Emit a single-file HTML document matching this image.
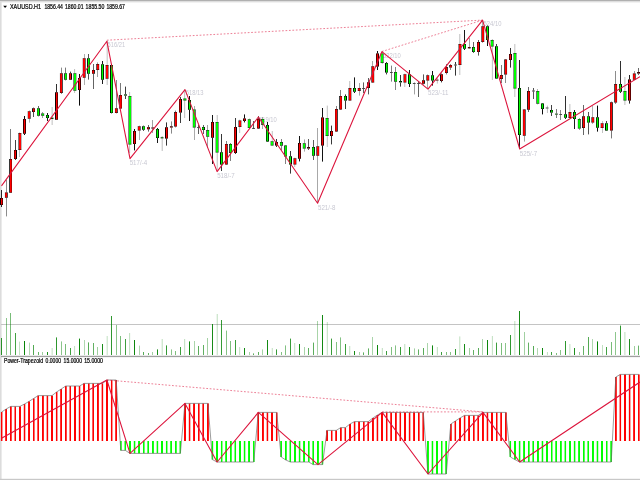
<!DOCTYPE html>
<html lang="en"><head><meta charset="utf-8"><title>XAUUSD.H1 Power-Trapezoid</title>
<style>html,body{margin:0;padding:0;background:#fff;overflow:hidden}body{width:640px;height:480px}svg{display:block}text{font-family:"Liberation Sans","DejaVu Sans",sans-serif}</style>
</head><body>
<svg width="640" height="480" viewBox="0 0 640 480">
<rect x="0" y="0" width="640" height="480" fill="#fff"/>
<g id="frame">
<rect x="0" y="0" width="1.6" height="480" fill="#dcdcdc"/>
<rect x="0" y="0" width="640" height="2.4" fill="#dedede"/>
<rect x="0" y="0" width="640" height="0.7" fill="#9c9c9c"/>
<rect x="0" y="478.8" width="640" height="1.2" fill="#c8c8c8"/>
</g>
<g id="volume">
<rect x="1" y="324" width="639" height="1" fill="#c4c4c4"/>
<g fill="#008000">
<rect x="1" y="338" width="1" height="17" opacity="0.83"/>
<rect x="6" y="318" width="1" height="37" opacity="0.45"/>
<rect x="10" y="313" width="1" height="42" opacity="0.53"/>
<rect x="15" y="333" width="1" height="22" opacity="0.74"/>
<rect x="19" y="341.6" width="1" height="13.4" opacity="0.24"/>
<rect x="24" y="341" width="1" height="14" opacity="0.97"/>
<rect x="29" y="342.6" width="1" height="12.4" opacity="0.31"/>
<rect x="33" y="345" width="1" height="10" opacity="0.68"/>
<rect x="38" y="352" width="1" height="3" opacity="0.6"/>
<rect x="42" y="352" width="1" height="3" opacity="0.38"/>
<rect x="47" y="352" width="1" height="3" opacity="0.89"/>
<rect x="51" y="348" width="1" height="7" opacity="0.09"/>
<rect x="52" y="348" width="1" height="7" opacity="0.16"/>
<rect x="56" y="337.4" width="1" height="17.6" opacity="0.82"/>
<rect x="61" y="341.4" width="1" height="13.6" opacity="0.46"/>
<rect x="65" y="344" width="1" height="11" opacity="0.53"/>
<rect x="70" y="348" width="1" height="7" opacity="0.75"/>
<rect x="74" y="346" width="1" height="9" opacity="0.23"/>
<rect x="75" y="346" width="1" height="9" opacity="0.02"/>
<rect x="79" y="338.6" width="1" height="16.4" opacity="0.96"/>
<rect x="84" y="340" width="1" height="15" opacity="0.31"/>
<rect x="88" y="342.4" width="1" height="12.6" opacity="0.67"/>
<rect x="93" y="343" width="1" height="12" opacity="0.61"/>
<rect x="97" y="347" width="1" height="8" opacity="0.38"/>
<rect x="102" y="344" width="1" height="11" opacity="0.9"/>
<rect x="106" y="336" width="1" height="19" opacity="0.08"/>
<rect x="107" y="336" width="1" height="19" opacity="0.17"/>
<rect x="111" y="316" width="1" height="39" opacity="0.81"/>
<rect x="116" y="325" width="1" height="30" opacity="0.46"/>
<rect x="120" y="336" width="1" height="19" opacity="0.52"/>
<rect x="125" y="339" width="1" height="16" opacity="0.76"/>
<rect x="129" y="333" width="1" height="22" opacity="0.23"/>
<rect x="130" y="333" width="1" height="22" opacity="0.03"/>
<rect x="134" y="340" width="1" height="15" opacity="0.95"/>
<rect x="139" y="345.6" width="1" height="9.4" opacity="0.32"/>
<rect x="143" y="352" width="1" height="3" opacity="0.66"/>
<rect x="148" y="353" width="1" height="2" opacity="0.61"/>
<rect x="152" y="352" width="1" height="3" opacity="0.37"/>
<rect x="157" y="349.4" width="1" height="5.6" opacity="0.91"/>
<rect x="161" y="339" width="1" height="16" opacity="0.08"/>
<rect x="162" y="339" width="1" height="16" opacity="0.18"/>
<rect x="166" y="345.4" width="1" height="9.6" opacity="0.8"/>
<rect x="171" y="349.4" width="1" height="5.6" opacity="0.47"/>
<rect x="175" y="351" width="1" height="4" opacity="0.51"/>
<rect x="180" y="347" width="1" height="8" opacity="0.76"/>
<rect x="184" y="339" width="1" height="16" opacity="0.22"/>
<rect x="185" y="339" width="1" height="16" opacity="0.04"/>
<rect x="189" y="341.4" width="1" height="13.6" opacity="0.94"/>
<rect x="194" y="341" width="1" height="14" opacity="0.33"/>
<rect x="198" y="346" width="1" height="9" opacity="0.65"/>
<rect x="203" y="345" width="1" height="10" opacity="0.62"/>
<rect x="207" y="338" width="1" height="17" opacity="0.36"/>
<rect x="212" y="324" width="1" height="31" opacity="0.91"/>
<rect x="216" y="314" width="1" height="41" opacity="0.07"/>
<rect x="217" y="314" width="1" height="41" opacity="0.19"/>
<rect x="221" y="320" width="1" height="35" opacity="0.79"/>
<rect x="226" y="330.6" width="1" height="24.4" opacity="0.48"/>
<rect x="230" y="341" width="1" height="14" opacity="0.5"/>
<rect x="235" y="340" width="1" height="15" opacity="0.77"/>
<rect x="239" y="347" width="1" height="8" opacity="0.21"/>
<rect x="240" y="347" width="1" height="8" opacity="0.04"/>
<rect x="244" y="348" width="1" height="7" opacity="0.94"/>
<rect x="249" y="352" width="1" height="3" opacity="0.34"/>
<rect x="253" y="353.4" width="1" height="1.6" opacity="0.64"/>
<rect x="258" y="352" width="1" height="3" opacity="0.63"/>
<rect x="262" y="349.4" width="1" height="5.6" opacity="0.35"/>
<rect x="267" y="340" width="1" height="15" opacity="0.92"/>
<rect x="271" y="348" width="1" height="7" opacity="0.06"/>
<rect x="272" y="348" width="1" height="7" opacity="0.19"/>
<rect x="276" y="349.4" width="1" height="5.6" opacity="0.79"/>
<rect x="281" y="352" width="1" height="3" opacity="0.49"/>
<rect x="285" y="345.4" width="1" height="9.6" opacity="0.49"/>
<rect x="290" y="338.6" width="1" height="16.4" opacity="0.78"/>
<rect x="294" y="343" width="1" height="12" opacity="0.2"/>
<rect x="295" y="343" width="1" height="12" opacity="0.05"/>
<rect x="299" y="344" width="1" height="11" opacity="0.93"/>
<rect x="304" y="347" width="1" height="8" opacity="0.34"/>
<rect x="308" y="348" width="1" height="7" opacity="0.64"/>
<rect x="313" y="342.6" width="1" height="12.4" opacity="0.64"/>
<rect x="317" y="321" width="1" height="34" opacity="0.34"/>
<rect x="322" y="315" width="1" height="40" opacity="0.93"/>
<rect x="326" y="322" width="1" height="33" opacity="0.05"/>
<rect x="327" y="322" width="1" height="33" opacity="0.2"/>
<rect x="331" y="338.6" width="1" height="16.4" opacity="0.78"/>
<rect x="336" y="342" width="1" height="13" opacity="0.49"/>
<rect x="340" y="337.4" width="1" height="17.6" opacity="0.49"/>
<rect x="345" y="344" width="1" height="11" opacity="0.79"/>
<rect x="349" y="346" width="1" height="9" opacity="0.2"/>
<rect x="350" y="346" width="1" height="9" opacity="0.06"/>
<rect x="354" y="351" width="1" height="4" opacity="0.92"/>
<rect x="359" y="352" width="1" height="3" opacity="0.35"/>
<rect x="363" y="352.4" width="1" height="2.6" opacity="0.63"/>
<rect x="368" y="348.4" width="1" height="6.6" opacity="0.64"/>
<rect x="372" y="337" width="1" height="18" opacity="0.34"/>
<rect x="377" y="345" width="1" height="10" opacity="0.94"/>
<rect x="381" y="348" width="1" height="7" opacity="0.05"/>
<rect x="382" y="348" width="1" height="7" opacity="0.21"/>
<rect x="386" y="351" width="1" height="4" opacity="0.77"/>
<rect x="391" y="347" width="1" height="8" opacity="0.5"/>
<rect x="395" y="345.4" width="1" height="9.6" opacity="0.48"/>
<rect x="400" y="347" width="1" height="8" opacity="0.79"/>
<rect x="404" y="344" width="1" height="11" opacity="0.19"/>
<rect x="405" y="344" width="1" height="11" opacity="0.07"/>
<rect x="409" y="347" width="1" height="8" opacity="0.91"/>
<rect x="414" y="348.4" width="1" height="6.6" opacity="0.36"/>
<rect x="418" y="349.4" width="1" height="5.6" opacity="0.62"/>
<rect x="423" y="348" width="1" height="7" opacity="0.65"/>
<rect x="427" y="343" width="1" height="12" opacity="0.33"/>
<rect x="432" y="345.4" width="1" height="9.6" opacity="0.94"/>
<rect x="436" y="347" width="1" height="8" opacity="0.04"/>
<rect x="437" y="347" width="1" height="8" opacity="0.22"/>
<rect x="441" y="352" width="1" height="3" opacity="0.76"/>
<rect x="446" y="352" width="1" height="3" opacity="0.51"/>
<rect x="450" y="352" width="1" height="3" opacity="0.47"/>
<rect x="455" y="349" width="1" height="6" opacity="0.8"/>
<rect x="459" y="336.4" width="1" height="18.6" opacity="0.18"/>
<rect x="460" y="336.4" width="1" height="18.6" opacity="0.07"/>
<rect x="464" y="344" width="1" height="11" opacity="0.91"/>
<rect x="469" y="348" width="1" height="7" opacity="0.37"/>
<rect x="473" y="350" width="1" height="5" opacity="0.61"/>
<rect x="478" y="348" width="1" height="7" opacity="0.66"/>
<rect x="482" y="339" width="1" height="16" opacity="0.32"/>
<rect x="487" y="340" width="1" height="15" opacity="0.95"/>
<rect x="491" y="336" width="1" height="19" opacity="0.03"/>
<rect x="492" y="336" width="1" height="19" opacity="0.22"/>
<rect x="496" y="342.6" width="1" height="12.4" opacity="0.76"/>
<rect x="501" y="343" width="1" height="12" opacity="0.52"/>
<rect x="505" y="343" width="1" height="12" opacity="0.46"/>
<rect x="510" y="335" width="1" height="20" opacity="0.81"/>
<rect x="514" y="321" width="1" height="34" opacity="0.17"/>
<rect x="515" y="321" width="1" height="34" opacity="0.08"/>
<rect x="519" y="311" width="1" height="44" opacity="0.9"/>
<rect x="524" y="332" width="1" height="23" opacity="0.37"/>
<rect x="528" y="342.6" width="1" height="12.4" opacity="0.61"/>
<rect x="533" y="346" width="1" height="9" opacity="0.67"/>
<rect x="537" y="348" width="1" height="7" opacity="0.31"/>
<rect x="542" y="348" width="1" height="7" opacity="0.96"/>
<rect x="546" y="352" width="1" height="3" opacity="0.02"/>
<rect x="547" y="352" width="1" height="3" opacity="0.23"/>
<rect x="551" y="352" width="1" height="3" opacity="0.75"/>
<rect x="556" y="353" width="1" height="2" opacity="0.52"/>
<rect x="560" y="350" width="1" height="5" opacity="0.46"/>
<rect x="565" y="341" width="1" height="14" opacity="0.82"/>
<rect x="569" y="344" width="1" height="11" opacity="0.16"/>
<rect x="570" y="344" width="1" height="11" opacity="0.09"/>
<rect x="574" y="348" width="1" height="7" opacity="0.89"/>
<rect x="579" y="352" width="1" height="3" opacity="0.38"/>
<rect x="583" y="346" width="1" height="9" opacity="0.6"/>
<rect x="588" y="337" width="1" height="18" opacity="0.67"/>
<rect x="592" y="339" width="1" height="16" opacity="0.31"/>
<rect x="597" y="341.4" width="1" height="13.6" opacity="0.97"/>
<rect x="602" y="345" width="1" height="10" opacity="0.24"/>
<rect x="606" y="347" width="1" height="8" opacity="0.74"/>
<rect x="611" y="342" width="1" height="13" opacity="0.53"/>
<rect x="615" y="332" width="1" height="23" opacity="0.45"/>
<rect x="620" y="325.6" width="1" height="29.4" opacity="0.82"/>
<rect x="624" y="332" width="1" height="23" opacity="0.16"/>
<rect x="625" y="332" width="1" height="23" opacity="0.1"/>
<rect x="629" y="339" width="1" height="16" opacity="0.88"/>
<rect x="634" y="346" width="1" height="9" opacity="0.39"/>
<rect x="638" y="345.6" width="1" height="9.4" opacity="0.59"/>
</g></g>
<g id="labels" font-size="6.6" fill="#c8c8d2">
<text x="107.6" y="46.8" textLength="17.5" lengthAdjust="spacingAndGlyphs">516/21</text>
<text x="129.7" y="164.8" textLength="17.5" lengthAdjust="spacingAndGlyphs">517/-4</text>
<text x="185.7" y="95" textLength="17.8" lengthAdjust="spacingAndGlyphs">518/13</text>
<text x="217.2" y="178" textLength="17.5" lengthAdjust="spacingAndGlyphs">518/-7</text>
<text x="259" y="122" textLength="17.8" lengthAdjust="spacingAndGlyphs">519/10</text>
<text x="318" y="210" textLength="17.5" lengthAdjust="spacingAndGlyphs">521/-8</text>
<text x="383" y="57.6" textLength="17.8" lengthAdjust="spacingAndGlyphs">522/10</text>
<text x="428" y="95" textLength="20.5" lengthAdjust="spacingAndGlyphs">523/-11</text>
<text x="483.6" y="26" textLength="17.8" lengthAdjust="spacingAndGlyphs">524/10</text>
<text x="519.8" y="155.6" textLength="17.5" lengthAdjust="spacingAndGlyphs">525/-7</text>
</g>
<g id="candles">
<g>
<rect x="1" y="190" width="1" height="8" opacity="0.83"/>
<rect x="1" y="205" width="1" height="2" opacity="0.83"/>
<rect x="0" y="198" width="1" height="7" fill="#140000" opacity="1"/>
<rect x="0" y="198" width="1" height="0.5" opacity="0.8"/>
<rect x="0" y="204.5" width="1" height="0.5" opacity="0.8"/>
<rect x="1" y="198" width="1" height="7" fill="#ff0000" opacity="1"/>
<rect x="1" y="198" width="1" height="0.5" opacity="0.8"/>
<rect x="1" y="204.5" width="1" height="0.5" opacity="0.8"/>
<rect x="2" y="198" width="1" height="7" fill="#6d0000" opacity="1"/>
<rect x="2" y="198" width="1" height="0.5" opacity="0.8"/>
<rect x="2" y="204.5" width="1" height="0.5" opacity="0.8"/>
</g>
<g>
<rect x="6" y="180" width="1" height="12.6" opacity="0.45"/>
<rect x="6" y="197.6" width="1" height="18.8" opacity="0.45"/>
<rect x="4" y="192.6" width="1" height="5" fill="#000000" opacity="0.06"/>
<rect x="4" y="192.6" width="1" height="0.5" opacity="0.05"/>
<rect x="4" y="197.1" width="1" height="0.5" opacity="0.05"/>
<rect x="5" y="192.6" width="1" height="5" fill="#ce0000" opacity="1"/>
<rect x="5" y="192.6" width="1" height="0.5" opacity="0.8"/>
<rect x="5" y="197.1" width="1" height="0.5" opacity="0.8"/>
<rect x="6" y="192.6" width="1" height="5" fill="#ff0000" opacity="1"/>
<rect x="6" y="192.6" width="1" height="0.5" opacity="0.8"/>
<rect x="6" y="197.1" width="1" height="0.5" opacity="0.8"/>
<rect x="7" y="192.6" width="1" height="5" fill="#000000" opacity="0.7"/>
<rect x="7" y="192.6" width="1" height="0.5" opacity="0.56"/>
<rect x="7" y="197.1" width="1" height="0.5" opacity="0.56"/>
</g>
<g>
<rect x="10" y="129" width="1" height="30" opacity="0.53"/>
<rect x="10" y="192.6" width="1" height="0.4" opacity="0.53"/>
<rect x="9" y="159" width="1" height="33.6" fill="#000000" opacity="0.79"/>
<rect x="9" y="159" width="1" height="0.5" opacity="0.63"/>
<rect x="9" y="192.1" width="1" height="0.5" opacity="0.63"/>
<rect x="10" y="159" width="1" height="33.6" fill="#ff0000" opacity="1"/>
<rect x="10" y="159" width="1" height="0.5" opacity="0.8"/>
<rect x="10" y="192.1" width="1" height="0.5" opacity="0.8"/>
<rect x="11" y="159" width="1" height="33.6" fill="#b80000" opacity="1"/>
<rect x="11" y="159" width="1" height="0.5" opacity="0.8"/>
<rect x="11" y="192.1" width="1" height="0.5" opacity="0.8"/>
</g>
<g>
<rect x="15" y="140" width="1" height="10" opacity="0.74"/>
<rect x="15" y="159" width="1" height="1" opacity="0.74"/>
<rect x="14" y="150" width="1" height="9" fill="#830000" opacity="1"/>
<rect x="14" y="150" width="1" height="0.5" opacity="0.8"/>
<rect x="14" y="158.5" width="1" height="0.5" opacity="0.8"/>
<rect x="15" y="150" width="1" height="9" fill="#ff0000" opacity="1"/>
<rect x="15" y="150" width="1" height="0.5" opacity="0.8"/>
<rect x="15" y="158.5" width="1" height="0.5" opacity="0.8"/>
<rect x="16" y="150" width="1" height="9" fill="#000000" opacity="0.99"/>
<rect x="16" y="150" width="1" height="0.5" opacity="0.8"/>
<rect x="16" y="158.5" width="1" height="0.5" opacity="0.8"/>
</g>
<g>
<rect x="19" y="132.4" width="1" height="0.6" opacity="0.24"/>
<rect x="19" y="150" width="1" height="7" opacity="0.24"/>
<rect x="18" y="133" width="1" height="17" fill="#000000" opacity="0.5"/>
<rect x="18" y="133" width="1" height="0.5" opacity="0.4"/>
<rect x="18" y="149.5" width="1" height="0.5" opacity="0.4"/>
<rect x="19" y="133" width="1" height="17" fill="#ff0000" opacity="1"/>
<rect x="19" y="133" width="1" height="0.5" opacity="0.8"/>
<rect x="19" y="149.5" width="1" height="0.5" opacity="0.8"/>
<rect x="20" y="133" width="1" height="17" fill="#ff0000" opacity="0.99"/>
<rect x="20" y="133" width="1" height="0.5" opacity="0.79"/>
<rect x="20" y="149.5" width="1" height="0.5" opacity="0.79"/>
<rect x="21" y="133" width="1" height="17" fill="#000000" opacity="0.27"/>
<rect x="21" y="133" width="1" height="0.5" opacity="0.21"/>
<rect x="21" y="149.5" width="1" height="0.5" opacity="0.21"/>
</g>
<g>
<rect x="24" y="116" width="1" height="3" opacity="0.97"/>
<rect x="24" y="133.6" width="1" height="1.4" opacity="0.97"/>
<rect x="23" y="119" width="1" height="14.6" fill="#390000" opacity="1"/>
<rect x="23" y="119" width="1" height="0.5" opacity="0.8"/>
<rect x="23" y="133.1" width="1" height="0.5" opacity="0.8"/>
<rect x="24" y="119" width="1" height="14.6" fill="#ff0000" opacity="1"/>
<rect x="24" y="119" width="1" height="0.5" opacity="0.8"/>
<rect x="24" y="133.1" width="1" height="0.5" opacity="0.8"/>
<rect x="25" y="119" width="1" height="14.6" fill="#490000" opacity="1"/>
<rect x="25" y="119" width="1" height="0.5" opacity="0.8"/>
<rect x="25" y="133.1" width="1" height="0.5" opacity="0.8"/>
</g>
<g>
<rect x="29" y="110.4" width="1" height="1" opacity="0.31"/>
<rect x="29" y="118.6" width="1" height="4" opacity="0.31"/>
<rect x="27" y="111.4" width="1" height="7.2" fill="#000000" opacity="0.2"/>
<rect x="27" y="111.4" width="1" height="0.5" opacity="0.16"/>
<rect x="27" y="118.1" width="1" height="0.5" opacity="0.16"/>
<rect x="28" y="111.4" width="1" height="7.2" fill="#f20000" opacity="1"/>
<rect x="28" y="111.4" width="1" height="0.5" opacity="0.8"/>
<rect x="28" y="118.1" width="1" height="0.5" opacity="0.8"/>
<rect x="29" y="111.4" width="1" height="7.2" fill="#ff0000" opacity="1"/>
<rect x="29" y="111.4" width="1" height="0.5" opacity="0.8"/>
<rect x="29" y="118.1" width="1" height="0.5" opacity="0.8"/>
<rect x="30" y="111.4" width="1" height="7.2" fill="#000000" opacity="0.56"/>
<rect x="30" y="111.4" width="1" height="0.5" opacity="0.45"/>
<rect x="30" y="118.1" width="1" height="0.5" opacity="0.45"/>
</g>
<g>
<rect x="33" y="107.6" width="1" height="0.8" opacity="0.68"/>
<rect x="33" y="112" width="1" height="5" opacity="0.68"/>
<rect x="32" y="108.4" width="1" height="3.6" fill="#000000" opacity="0.93"/>
<rect x="32" y="108.4" width="1" height="0.5" opacity="0.74"/>
<rect x="32" y="111.5" width="1" height="0.5" opacity="0.74"/>
<rect x="33" y="108.4" width="1" height="3.6" fill="#ff0000" opacity="1"/>
<rect x="33" y="108.4" width="1" height="0.5" opacity="0.8"/>
<rect x="33" y="111.5" width="1" height="0.5" opacity="0.8"/>
<rect x="34" y="108.4" width="1" height="3.6" fill="#940000" opacity="1"/>
<rect x="34" y="108.4" width="1" height="0.5" opacity="0.8"/>
<rect x="34" y="111.5" width="1" height="0.5" opacity="0.8"/>
</g>
<g>
<rect x="38" y="106" width="1" height="2.4" opacity="0.6"/>
<rect x="38" y="115.6" width="1" height="0.8" opacity="0.6"/>
<rect x="37" y="108.4" width="1" height="7.2" fill="#00a700" opacity="1"/>
<rect x="37" y="108.4" width="1" height="0.5" opacity="0.8"/>
<rect x="37" y="115.1" width="1" height="0.5" opacity="0.8"/>
<rect x="38" y="108.4" width="1" height="7.2" fill="#00ff00" opacity="1"/>
<rect x="38" y="108.4" width="1" height="0.5" opacity="0.8"/>
<rect x="38" y="115.1" width="1" height="0.5" opacity="0.8"/>
<rect x="39" y="108.4" width="1" height="7.2" fill="#000000" opacity="0.85"/>
<rect x="39" y="108.4" width="1" height="0.5" opacity="0.68"/>
<rect x="39" y="115.1" width="1" height="0.5" opacity="0.68"/>
</g>
<g>
<rect x="42" y="112" width="1" height="1.6" opacity="0.38"/>
<rect x="42" y="115.6" width="1" height="2.4" opacity="0.38"/>
<rect x="41" y="113.6" width="1" height="2" fill="#000000" opacity="0.64"/>
<rect x="41" y="113.6" width="1" height="0.5" opacity="0.51"/>
<rect x="41" y="115.1" width="1" height="0.5" opacity="0.51"/>
<rect x="42" y="113.6" width="1" height="2" fill="#00ff00" opacity="1"/>
<rect x="42" y="113.6" width="1" height="0.5" opacity="0.8"/>
<rect x="42" y="115.1" width="1" height="0.5" opacity="0.8"/>
<rect x="43" y="113.6" width="1" height="2" fill="#00de00" opacity="1"/>
<rect x="43" y="113.6" width="1" height="0.5" opacity="0.8"/>
<rect x="43" y="115.1" width="1" height="0.5" opacity="0.8"/>
<rect x="44" y="113.6" width="1" height="2" fill="#000000" opacity="0.13"/>
<rect x="44" y="113.6" width="1" height="0.5" opacity="0.1"/>
<rect x="44" y="115.1" width="1" height="0.5" opacity="0.1"/>
</g>
<g>
<rect x="47" y="113" width="1" height="2" opacity="0.89"/>
<rect x="47" y="118" width="1" height="3" opacity="0.89"/>
<rect x="46" y="115" width="1" height="3" fill="#005d00" opacity="1"/>
<rect x="46" y="115" width="1" height="0.5" opacity="0.8"/>
<rect x="46" y="117.5" width="1" height="0.5" opacity="0.8"/>
<rect x="47" y="115" width="1" height="3" fill="#00ff00" opacity="1"/>
<rect x="47" y="115" width="1" height="0.5" opacity="0.8"/>
<rect x="47" y="117.5" width="1" height="0.5" opacity="0.8"/>
<rect x="48" y="115" width="1" height="3" fill="#002500" opacity="1"/>
<rect x="48" y="115" width="1" height="0.5" opacity="0.8"/>
<rect x="48" y="117.5" width="1" height="0.5" opacity="0.8"/>
</g>
<g>
<rect x="51" y="107" width="1" height="10.6" opacity="0.09"/>
<rect x="51" y="119" width="1" height="6" opacity="0.09"/>
<rect x="52" y="107" width="1" height="10.6" opacity="0.16"/>
<rect x="52" y="119" width="1" height="6" opacity="0.16"/>
<rect x="50" y="117.6" width="1" height="1.4" fill="#000000" opacity="0.35"/>
<rect x="51" y="117.6" width="1" height="1.4" fill="#005900" opacity="1"/>
<rect x="52" y="117.6" width="1" height="1.4" fill="#005900" opacity="1"/>
<rect x="53" y="117.6" width="1" height="1.4" fill="#000000" opacity="0.42"/>
</g>
<g>
<rect x="56" y="84" width="1" height="8.4" opacity="0.82"/>
<rect x="56" y="119.6" width="1" height="0.4" opacity="0.82"/>
<rect x="55" y="92.4" width="1" height="27.2" fill="#120000" opacity="1"/>
<rect x="55" y="92.4" width="1" height="0.5" opacity="0.8"/>
<rect x="55" y="119.1" width="1" height="0.5" opacity="0.8"/>
<rect x="56" y="92.4" width="1" height="27.2" fill="#ff0000" opacity="1"/>
<rect x="56" y="92.4" width="1" height="0.5" opacity="0.8"/>
<rect x="56" y="119.1" width="1" height="0.5" opacity="0.8"/>
<rect x="57" y="92.4" width="1" height="27.2" fill="#6f0000" opacity="1"/>
<rect x="57" y="92.4" width="1" height="0.5" opacity="0.8"/>
<rect x="57" y="119.1" width="1" height="0.5" opacity="0.8"/>
</g>
<g>
<rect x="61" y="67.6" width="1" height="5.8" opacity="0.46"/>
<rect x="61" y="93" width="1" height="1" opacity="0.46"/>
<rect x="59" y="73.4" width="1" height="19.6" fill="#000000" opacity="0.05"/>
<rect x="59" y="73.4" width="1" height="0.5" opacity="0.04"/>
<rect x="59" y="92.5" width="1" height="0.5" opacity="0.04"/>
<rect x="60" y="73.4" width="1" height="19.6" fill="#cc0000" opacity="1"/>
<rect x="60" y="73.4" width="1" height="0.5" opacity="0.8"/>
<rect x="60" y="92.5" width="1" height="0.5" opacity="0.8"/>
<rect x="61" y="73.4" width="1" height="19.6" fill="#ff0000" opacity="1"/>
<rect x="61" y="73.4" width="1" height="0.5" opacity="0.8"/>
<rect x="61" y="92.5" width="1" height="0.5" opacity="0.8"/>
<rect x="62" y="73.4" width="1" height="19.6" fill="#000000" opacity="0.71"/>
<rect x="62" y="73.4" width="1" height="0.5" opacity="0.57"/>
<rect x="62" y="92.5" width="1" height="0.5" opacity="0.57"/>
</g>
<g>
<rect x="65" y="67.6" width="1" height="5.8" opacity="0.53"/>
<rect x="65" y="79.6" width="1" height="0.8" opacity="0.53"/>
<rect x="64" y="73.4" width="1" height="6.2" fill="#000000" opacity="0.78"/>
<rect x="64" y="73.4" width="1" height="0.5" opacity="0.62"/>
<rect x="64" y="79.1" width="1" height="0.5" opacity="0.62"/>
<rect x="65" y="73.4" width="1" height="6.2" fill="#00ff00" opacity="1"/>
<rect x="65" y="73.4" width="1" height="0.5" opacity="0.8"/>
<rect x="65" y="79.1" width="1" height="0.5" opacity="0.8"/>
<rect x="66" y="73.4" width="1" height="6.2" fill="#00ba00" opacity="1"/>
<rect x="66" y="73.4" width="1" height="0.5" opacity="0.8"/>
<rect x="66" y="79.1" width="1" height="0.5" opacity="0.8"/>
</g>
<g>
<rect x="70" y="71.6" width="1" height="1.8" opacity="0.75"/>
<rect x="70" y="79.6" width="1" height="0.4" opacity="0.75"/>
<rect x="69" y="73.4" width="1" height="6.2" fill="#810000" opacity="1"/>
<rect x="69" y="73.4" width="1" height="0.5" opacity="0.8"/>
<rect x="69" y="79.1" width="1" height="0.5" opacity="0.8"/>
<rect x="70" y="73.4" width="1" height="6.2" fill="#ff0000" opacity="1"/>
<rect x="70" y="73.4" width="1" height="0.5" opacity="0.8"/>
<rect x="70" y="79.1" width="1" height="0.5" opacity="0.8"/>
<rect x="71" y="73.4" width="1" height="6.2" fill="#000000" opacity="1"/>
<rect x="71" y="73.4" width="1" height="0.5" opacity="0.8"/>
<rect x="71" y="79.1" width="1" height="0.5" opacity="0.8"/>
</g>
<g>
<rect x="74" y="69" width="1" height="4.4" opacity="0.23"/>
<rect x="74" y="90.6" width="1" height="2.4" opacity="0.23"/>
<rect x="75" y="69" width="1" height="4.4" opacity="0.02"/>
<rect x="75" y="90.6" width="1" height="2.4" opacity="0.02"/>
<rect x="73" y="73.4" width="1" height="17.2" fill="#000000" opacity="0.49"/>
<rect x="73" y="73.4" width="1" height="0.5" opacity="0.39"/>
<rect x="73" y="90.1" width="1" height="0.5" opacity="0.39"/>
<rect x="74" y="73.4" width="1" height="17.2" fill="#00ff00" opacity="1"/>
<rect x="74" y="73.4" width="1" height="0.5" opacity="0.8"/>
<rect x="74" y="90.1" width="1" height="0.5" opacity="0.8"/>
<rect x="75" y="73.4" width="1" height="17.2" fill="#00ff00" opacity="1"/>
<rect x="75" y="73.4" width="1" height="0.5" opacity="0.8"/>
<rect x="75" y="90.1" width="1" height="0.5" opacity="0.8"/>
<rect x="76" y="73.4" width="1" height="17.2" fill="#000000" opacity="0.28"/>
<rect x="76" y="73.4" width="1" height="0.5" opacity="0.22"/>
<rect x="76" y="90.1" width="1" height="0.5" opacity="0.22"/>
</g>
<g>
<rect x="79" y="74" width="1" height="4" opacity="0.96"/>
<rect x="79" y="90" width="1" height="15.6" opacity="0.96"/>
<rect x="78" y="78" width="1" height="12" fill="#370000" opacity="1"/>
<rect x="78" y="78" width="1" height="0.5" opacity="0.8"/>
<rect x="78" y="89.5" width="1" height="0.5" opacity="0.8"/>
<rect x="79" y="78" width="1" height="12" fill="#ff0000" opacity="1"/>
<rect x="79" y="78" width="1" height="0.5" opacity="0.8"/>
<rect x="79" y="89.5" width="1" height="0.5" opacity="0.8"/>
<rect x="80" y="78" width="1" height="12" fill="#4b0000" opacity="1"/>
<rect x="80" y="78" width="1" height="0.5" opacity="0.8"/>
<rect x="80" y="89.5" width="1" height="0.5" opacity="0.8"/>
</g>
<g>
<rect x="84" y="54" width="1" height="4.4" opacity="0.31"/>
<rect x="84" y="77.6" width="1" height="7.4" opacity="0.31"/>
<rect x="82" y="58.4" width="1" height="19.2" fill="#000000" opacity="0.2"/>
<rect x="82" y="58.4" width="1" height="0.5" opacity="0.16"/>
<rect x="82" y="77.1" width="1" height="0.5" opacity="0.16"/>
<rect x="83" y="58.4" width="1" height="19.2" fill="#f00000" opacity="1"/>
<rect x="83" y="58.4" width="1" height="0.5" opacity="0.8"/>
<rect x="83" y="77.1" width="1" height="0.5" opacity="0.8"/>
<rect x="84" y="58.4" width="1" height="19.2" fill="#ff0000" opacity="1"/>
<rect x="84" y="58.4" width="1" height="0.5" opacity="0.8"/>
<rect x="84" y="77.1" width="1" height="0.5" opacity="0.8"/>
<rect x="85" y="58.4" width="1" height="19.2" fill="#000000" opacity="0.57"/>
<rect x="85" y="58.4" width="1" height="0.5" opacity="0.45"/>
<rect x="85" y="77.1" width="1" height="0.5" opacity="0.45"/>
</g>
<g>
<rect x="88" y="54" width="1" height="4.4" opacity="0.67"/>
<rect x="88" y="73.6" width="1" height="6" opacity="0.67"/>
<rect x="87" y="58.4" width="1" height="15.2" fill="#000000" opacity="0.92"/>
<rect x="87" y="58.4" width="1" height="0.5" opacity="0.74"/>
<rect x="87" y="73.1" width="1" height="0.5" opacity="0.74"/>
<rect x="88" y="58.4" width="1" height="15.2" fill="#00ff00" opacity="1"/>
<rect x="88" y="58.4" width="1" height="0.5" opacity="0.8"/>
<rect x="88" y="73.1" width="1" height="0.5" opacity="0.8"/>
<rect x="89" y="58.4" width="1" height="15.2" fill="#009600" opacity="1"/>
<rect x="89" y="58.4" width="1" height="0.5" opacity="0.8"/>
<rect x="89" y="73.1" width="1" height="0.5" opacity="0.8"/>
</g>
<g>
<rect x="93" y="64" width="1" height="6" opacity="0.61"/>
<rect x="93" y="73.6" width="1" height="15.4" opacity="0.61"/>
<rect x="92" y="70" width="1" height="3.6" fill="#a60000" opacity="1"/>
<rect x="92" y="70" width="1" height="0.5" opacity="0.8"/>
<rect x="92" y="73.1" width="1" height="0.5" opacity="0.8"/>
<rect x="93" y="70" width="1" height="3.6" fill="#ff0000" opacity="1"/>
<rect x="93" y="70" width="1" height="0.5" opacity="0.8"/>
<rect x="93" y="73.1" width="1" height="0.5" opacity="0.8"/>
<rect x="94" y="70" width="1" height="3.6" fill="#000000" opacity="0.86"/>
<rect x="94" y="70" width="1" height="0.5" opacity="0.69"/>
<rect x="94" y="73.1" width="1" height="0.5" opacity="0.69"/>
</g>
<g>
<rect x="97" y="62.4" width="1" height="1.6" opacity="0.38"/>
<rect x="97" y="70" width="1" height="7" opacity="0.38"/>
<rect x="96" y="64" width="1" height="6" fill="#000000" opacity="0.63"/>
<rect x="96" y="64" width="1" height="0.5" opacity="0.5"/>
<rect x="96" y="69.5" width="1" height="0.5" opacity="0.5"/>
<rect x="97" y="64" width="1" height="6" fill="#ff0000" opacity="1"/>
<rect x="97" y="64" width="1" height="0.5" opacity="0.8"/>
<rect x="97" y="69.5" width="1" height="0.5" opacity="0.8"/>
<rect x="98" y="64" width="1" height="6" fill="#e00000" opacity="1"/>
<rect x="98" y="64" width="1" height="0.5" opacity="0.8"/>
<rect x="98" y="69.5" width="1" height="0.5" opacity="0.8"/>
<rect x="99" y="64" width="1" height="6" fill="#000000" opacity="0.13"/>
<rect x="99" y="64" width="1" height="0.5" opacity="0.11"/>
<rect x="99" y="69.5" width="1" height="0.5" opacity="0.11"/>
</g>
<g>
<rect x="102" y="61" width="1" height="3.4" opacity="0.9"/>
<rect x="102" y="79.6" width="1" height="4.4" opacity="0.9"/>
<rect x="101" y="64.4" width="1" height="15.2" fill="#005b00" opacity="1"/>
<rect x="101" y="64.4" width="1" height="0.5" opacity="0.8"/>
<rect x="101" y="79.1" width="1" height="0.5" opacity="0.8"/>
<rect x="102" y="64.4" width="1" height="15.2" fill="#00ff00" opacity="1"/>
<rect x="102" y="64.4" width="1" height="0.5" opacity="0.8"/>
<rect x="102" y="79.1" width="1" height="0.5" opacity="0.8"/>
<rect x="103" y="64.4" width="1" height="15.2" fill="#002700" opacity="1"/>
<rect x="103" y="64.4" width="1" height="0.5" opacity="0.8"/>
<rect x="103" y="79.1" width="1" height="0.5" opacity="0.8"/>
</g>
<g>
<rect x="106" y="40.6" width="1" height="24.4" opacity="0.08"/>
<rect x="106" y="78.6" width="1" height="6.4" opacity="0.08"/>
<rect x="107" y="40.6" width="1" height="24.4" opacity="0.17"/>
<rect x="107" y="78.6" width="1" height="6.4" opacity="0.17"/>
<rect x="105" y="65" width="1" height="13.6" fill="#000000" opacity="0.34"/>
<rect x="105" y="65" width="1" height="0.5" opacity="0.27"/>
<rect x="105" y="78.1" width="1" height="0.5" opacity="0.27"/>
<rect x="106" y="65" width="1" height="13.6" fill="#ff0000" opacity="1"/>
<rect x="106" y="65" width="1" height="0.5" opacity="0.8"/>
<rect x="106" y="78.1" width="1" height="0.5" opacity="0.8"/>
<rect x="107" y="65" width="1" height="13.6" fill="#ff0000" opacity="1"/>
<rect x="107" y="65" width="1" height="0.5" opacity="0.8"/>
<rect x="107" y="78.1" width="1" height="0.5" opacity="0.8"/>
<rect x="108" y="65" width="1" height="13.6" fill="#000000" opacity="0.43"/>
<rect x="108" y="65" width="1" height="0.5" opacity="0.34"/>
<rect x="108" y="78.1" width="1" height="0.5" opacity="0.34"/>
</g>
<g>
<rect x="111" y="64" width="1" height="1" opacity="0.81"/>
<rect x="111" y="113" width="1" height="0.4" opacity="0.81"/>
<rect x="110" y="65" width="1" height="48" fill="#001100" opacity="1"/>
<rect x="110" y="65" width="1" height="0.5" opacity="0.8"/>
<rect x="110" y="112.5" width="1" height="0.5" opacity="0.8"/>
<rect x="111" y="65" width="1" height="48" fill="#00ff00" opacity="1"/>
<rect x="111" y="65" width="1" height="0.5" opacity="0.8"/>
<rect x="111" y="112.5" width="1" height="0.5" opacity="0.8"/>
<rect x="112" y="65" width="1" height="48" fill="#007100" opacity="1"/>
<rect x="112" y="65" width="1" height="0.5" opacity="0.8"/>
<rect x="112" y="112.5" width="1" height="0.5" opacity="0.8"/>
</g>
<g>
<rect x="116" y="80" width="1" height="28.4" opacity="0.46"/>
<rect x="116" y="113" width="1" height="0.4" opacity="0.46"/>
<rect x="114" y="108.4" width="1" height="4.6" fill="#000000" opacity="0.05"/>
<rect x="114" y="108.4" width="1" height="0.5" opacity="0.04"/>
<rect x="114" y="112.5" width="1" height="0.5" opacity="0.04"/>
<rect x="115" y="108.4" width="1" height="4.6" fill="#ca0000" opacity="1"/>
<rect x="115" y="108.4" width="1" height="0.5" opacity="0.8"/>
<rect x="115" y="112.5" width="1" height="0.5" opacity="0.8"/>
<rect x="116" y="108.4" width="1" height="4.6" fill="#ff0000" opacity="1"/>
<rect x="116" y="108.4" width="1" height="0.5" opacity="0.8"/>
<rect x="116" y="112.5" width="1" height="0.5" opacity="0.8"/>
<rect x="117" y="108.4" width="1" height="4.6" fill="#000000" opacity="0.72"/>
<rect x="117" y="108.4" width="1" height="0.5" opacity="0.57"/>
<rect x="117" y="112.5" width="1" height="0.5" opacity="0.57"/>
</g>
<g>
<rect x="120" y="83" width="1" height="12" opacity="0.52"/>
<rect x="120" y="108.4" width="1" height="0.6" opacity="0.52"/>
<rect x="119" y="95" width="1" height="13.4" fill="#000000" opacity="0.77"/>
<rect x="119" y="95" width="1" height="0.5" opacity="0.62"/>
<rect x="119" y="107.9" width="1" height="0.5" opacity="0.62"/>
<rect x="120" y="95" width="1" height="13.4" fill="#ff0000" opacity="1"/>
<rect x="120" y="95" width="1" height="0.5" opacity="0.8"/>
<rect x="120" y="107.9" width="1" height="0.5" opacity="0.8"/>
<rect x="121" y="95" width="1" height="13.4" fill="#bc0000" opacity="1"/>
<rect x="121" y="95" width="1" height="0.5" opacity="0.8"/>
<rect x="121" y="107.9" width="1" height="0.5" opacity="0.8"/>
</g>
<g>
<rect x="125" y="86.6" width="1" height="7.8" opacity="0.76"/>
<rect x="125" y="95.6" width="1" height="3.4" opacity="0.76"/>
<rect x="124" y="94.4" width="1" height="1.2" fill="#002d00" opacity="1"/>
<rect x="125" y="94.4" width="1" height="1.2" fill="#005900" opacity="1"/>
<rect x="126" y="94.4" width="1" height="1.2" fill="#000000" opacity="0.99"/>
</g>
<g>
<rect x="129" y="92" width="1" height="4" opacity="0.23"/>
<rect x="129" y="144.4" width="1" height="8.6" opacity="0.23"/>
<rect x="130" y="92" width="1" height="4" opacity="0.03"/>
<rect x="130" y="144.4" width="1" height="8.6" opacity="0.03"/>
<rect x="128" y="96" width="1" height="48.4" fill="#000000" opacity="0.48"/>
<rect x="128" y="96" width="1" height="0.5" opacity="0.38"/>
<rect x="128" y="143.9" width="1" height="0.5" opacity="0.38"/>
<rect x="129" y="96" width="1" height="48.4" fill="#00ff00" opacity="1"/>
<rect x="129" y="96" width="1" height="0.5" opacity="0.8"/>
<rect x="129" y="143.9" width="1" height="0.5" opacity="0.8"/>
<rect x="130" y="96" width="1" height="48.4" fill="#00ff00" opacity="1"/>
<rect x="130" y="96" width="1" height="0.5" opacity="0.8"/>
<rect x="130" y="143.9" width="1" height="0.5" opacity="0.8"/>
<rect x="131" y="96" width="1" height="48.4" fill="#000000" opacity="0.28"/>
<rect x="131" y="96" width="1" height="0.5" opacity="0.23"/>
<rect x="131" y="143.9" width="1" height="0.5" opacity="0.23"/>
</g>
<g>
<rect x="134" y="129" width="1" height="2" opacity="0.95"/>
<rect x="134" y="144" width="1" height="6.4" opacity="0.95"/>
<rect x="133" y="131" width="1" height="13" fill="#350000" opacity="1"/>
<rect x="133" y="131" width="1" height="0.5" opacity="0.8"/>
<rect x="133" y="143.5" width="1" height="0.5" opacity="0.8"/>
<rect x="134" y="131" width="1" height="13" fill="#ff0000" opacity="1"/>
<rect x="134" y="131" width="1" height="0.5" opacity="0.8"/>
<rect x="134" y="143.5" width="1" height="0.5" opacity="0.8"/>
<rect x="135" y="131" width="1" height="13" fill="#4d0000" opacity="1"/>
<rect x="135" y="131" width="1" height="0.5" opacity="0.8"/>
<rect x="135" y="143.5" width="1" height="0.5" opacity="0.8"/>
</g>
<g>
<rect x="139" y="125.6" width="1" height="0.8" opacity="0.32"/>
<rect x="139" y="130.4" width="1" height="9.6" opacity="0.32"/>
<rect x="137" y="126.4" width="1" height="4" fill="#000000" opacity="0.19"/>
<rect x="137" y="126.4" width="1" height="0.5" opacity="0.15"/>
<rect x="137" y="129.9" width="1" height="0.5" opacity="0.15"/>
<rect x="138" y="126.4" width="1" height="4" fill="#ee0000" opacity="1"/>
<rect x="138" y="126.4" width="1" height="0.5" opacity="0.8"/>
<rect x="138" y="129.9" width="1" height="0.5" opacity="0.8"/>
<rect x="139" y="126.4" width="1" height="4" fill="#ff0000" opacity="1"/>
<rect x="139" y="126.4" width="1" height="0.5" opacity="0.8"/>
<rect x="139" y="129.9" width="1" height="0.5" opacity="0.8"/>
<rect x="140" y="126.4" width="1" height="4" fill="#000000" opacity="0.58"/>
<rect x="140" y="126.4" width="1" height="0.5" opacity="0.46"/>
<rect x="140" y="129.9" width="1" height="0.5" opacity="0.46"/>
</g>
<g>
<rect x="143" y="125.6" width="1" height="0.8" opacity="0.66"/>
<rect x="143" y="129.6" width="1" height="1.4" opacity="0.66"/>
<rect x="142" y="126.4" width="1" height="3.2" fill="#000000" opacity="0.91"/>
<rect x="142" y="126.4" width="1" height="0.5" opacity="0.73"/>
<rect x="142" y="129.1" width="1" height="0.5" opacity="0.73"/>
<rect x="143" y="126.4" width="1" height="3.2" fill="#00ff00" opacity="1"/>
<rect x="143" y="126.4" width="1" height="0.5" opacity="0.8"/>
<rect x="143" y="129.1" width="1" height="0.5" opacity="0.8"/>
<rect x="144" y="126.4" width="1" height="3.2" fill="#009800" opacity="1"/>
<rect x="144" y="126.4" width="1" height="0.5" opacity="0.8"/>
<rect x="144" y="129.1" width="1" height="0.5" opacity="0.8"/>
</g>
<g>
<rect x="148" y="125" width="1" height="2.2" opacity="0.61"/>
<rect x="148" y="129.2" width="1" height="2.4" opacity="0.61"/>
<rect x="147" y="127.2" width="1" height="2" fill="#a40000" opacity="1"/>
<rect x="147" y="127.2" width="1" height="0.5" opacity="0.8"/>
<rect x="147" y="128.7" width="1" height="0.5" opacity="0.8"/>
<rect x="148" y="127.2" width="1" height="2" fill="#ff0000" opacity="1"/>
<rect x="148" y="127.2" width="1" height="0.5" opacity="0.8"/>
<rect x="148" y="128.7" width="1" height="0.5" opacity="0.8"/>
<rect x="149" y="127.2" width="1" height="2" fill="#000000" opacity="0.87"/>
<rect x="149" y="127.2" width="1" height="0.5" opacity="0.69"/>
<rect x="149" y="128.7" width="1" height="0.5" opacity="0.69"/>
</g>
<g>
<rect x="152" y="120" width="1" height="7.4" opacity="0.37"/>
<rect x="152" y="128.6" width="1" height="4.4" opacity="0.37"/>
<rect x="151" y="127.4" width="1" height="1.2" fill="#000000" opacity="0.62"/>
<rect x="152" y="127.4" width="1" height="1.2" fill="#590000" opacity="1"/>
<rect x="153" y="127.4" width="1" height="1.2" fill="#4f0000" opacity="1"/>
<rect x="154" y="127.4" width="1" height="1.2" fill="#000000" opacity="0.14"/>
</g>
<g>
<rect x="157" y="128" width="1" height="1" opacity="0.91"/>
<rect x="157" y="138" width="1" height="5" opacity="0.91"/>
<rect x="156" y="129" width="1" height="9" fill="#005900" opacity="1"/>
<rect x="156" y="129" width="1" height="0.5" opacity="0.8"/>
<rect x="156" y="137.5" width="1" height="0.5" opacity="0.8"/>
<rect x="157" y="129" width="1" height="9" fill="#00ff00" opacity="1"/>
<rect x="157" y="129" width="1" height="0.5" opacity="0.8"/>
<rect x="157" y="137.5" width="1" height="0.5" opacity="0.8"/>
<rect x="158" y="129" width="1" height="9" fill="#002900" opacity="1"/>
<rect x="158" y="129" width="1" height="0.5" opacity="0.8"/>
<rect x="158" y="137.5" width="1" height="0.5" opacity="0.8"/>
</g>
<g>
<rect x="161" y="136" width="1" height="1.2" opacity="0.08"/>
<rect x="161" y="138.4" width="1" height="12.6" opacity="0.08"/>
<rect x="162" y="136" width="1" height="1.2" opacity="0.18"/>
<rect x="162" y="138.4" width="1" height="12.6" opacity="0.18"/>
<rect x="160" y="137.2" width="1" height="1.2" fill="#000000" opacity="0.33"/>
<rect x="161" y="137.2" width="1" height="1.2" fill="#005900" opacity="1"/>
<rect x="162" y="137.2" width="1" height="1.2" fill="#005900" opacity="1"/>
<rect x="163" y="137.2" width="1" height="1.2" fill="#000000" opacity="0.43"/>
</g>
<g>
<rect x="166" y="122.4" width="1" height="5" opacity="0.8"/>
<rect x="166" y="138.4" width="1" height="7.2" opacity="0.8"/>
<rect x="165" y="127.4" width="1" height="11" fill="#0f0000" opacity="1"/>
<rect x="165" y="127.4" width="1" height="0.5" opacity="0.8"/>
<rect x="165" y="137.9" width="1" height="0.5" opacity="0.8"/>
<rect x="166" y="127.4" width="1" height="11" fill="#ff0000" opacity="1"/>
<rect x="166" y="127.4" width="1" height="0.5" opacity="0.8"/>
<rect x="166" y="137.9" width="1" height="0.5" opacity="0.8"/>
<rect x="167" y="127.4" width="1" height="11" fill="#730000" opacity="1"/>
<rect x="167" y="127.4" width="1" height="0.5" opacity="0.8"/>
<rect x="167" y="137.9" width="1" height="0.5" opacity="0.8"/>
</g>
<g>
<rect x="171" y="121.4" width="1" height="4.8" opacity="0.47"/>
<rect x="171" y="127.6" width="1" height="6" opacity="0.47"/>
<rect x="169" y="126.2" width="1" height="1.4" fill="#000000" opacity="0.04"/>
<rect x="170" y="126.2" width="1" height="1.4" fill="#460000" opacity="1"/>
<rect x="171" y="126.2" width="1" height="1.4" fill="#590000" opacity="1"/>
<rect x="172" y="126.2" width="1" height="1.4" fill="#000000" opacity="0.73"/>
</g>
<g>
<rect x="175" y="110.6" width="1" height="1.4" opacity="0.51"/>
<rect x="175" y="126.4" width="1" height="1" opacity="0.51"/>
<rect x="174" y="112" width="1" height="14.4" fill="#000000" opacity="0.76"/>
<rect x="174" y="112" width="1" height="0.5" opacity="0.61"/>
<rect x="174" y="125.9" width="1" height="0.5" opacity="0.61"/>
<rect x="175" y="112" width="1" height="14.4" fill="#ff0000" opacity="1"/>
<rect x="175" y="112" width="1" height="0.5" opacity="0.8"/>
<rect x="175" y="125.9" width="1" height="0.5" opacity="0.8"/>
<rect x="176" y="112" width="1" height="14.4" fill="#be0000" opacity="1"/>
<rect x="176" y="112" width="1" height="0.5" opacity="0.8"/>
<rect x="176" y="125.9" width="1" height="0.5" opacity="0.8"/>
</g>
<g>
<rect x="180" y="97" width="1" height="2" opacity="0.76"/>
<rect x="180" y="112.4" width="1" height="10.6" opacity="0.76"/>
<rect x="179" y="99" width="1" height="13.4" fill="#7d0000" opacity="1"/>
<rect x="179" y="99" width="1" height="0.5" opacity="0.8"/>
<rect x="179" y="111.9" width="1" height="0.5" opacity="0.8"/>
<rect x="180" y="99" width="1" height="13.4" fill="#ff0000" opacity="1"/>
<rect x="180" y="99" width="1" height="0.5" opacity="0.8"/>
<rect x="180" y="111.9" width="1" height="0.5" opacity="0.8"/>
<rect x="181" y="99" width="1" height="13.4" fill="#000000" opacity="0.98"/>
<rect x="181" y="99" width="1" height="0.5" opacity="0.79"/>
<rect x="181" y="111.9" width="1" height="0.5" opacity="0.79"/>
</g>
<g>
<rect x="184" y="89.4" width="1" height="9.2" opacity="0.22"/>
<rect x="184" y="100.4" width="1" height="17.6" opacity="0.22"/>
<rect x="185" y="89.4" width="1" height="9.2" opacity="0.04"/>
<rect x="185" y="100.4" width="1" height="17.6" opacity="0.04"/>
<rect x="183" y="98.6" width="1" height="1.8" fill="#000000" opacity="0.47"/>
<rect x="183" y="98.6" width="1" height="0.5" opacity="0.38"/>
<rect x="183" y="99.9" width="1" height="0.5" opacity="0.38"/>
<rect x="184" y="98.6" width="1" height="1.8" fill="#00ff00" opacity="1"/>
<rect x="184" y="98.6" width="1" height="0.5" opacity="0.8"/>
<rect x="184" y="99.9" width="1" height="0.5" opacity="0.8"/>
<rect x="185" y="98.6" width="1" height="1.8" fill="#00ff00" opacity="1"/>
<rect x="185" y="98.6" width="1" height="0.5" opacity="0.8"/>
<rect x="185" y="99.9" width="1" height="0.5" opacity="0.8"/>
<rect x="186" y="98.6" width="1" height="1.8" fill="#000000" opacity="0.29"/>
<rect x="186" y="98.6" width="1" height="0.5" opacity="0.23"/>
<rect x="186" y="99.9" width="1" height="0.5" opacity="0.23"/>
</g>
<g>
<rect x="189" y="96" width="1" height="4" opacity="0.94"/>
<rect x="189" y="109.6" width="1" height="11.4" opacity="0.94"/>
<rect x="188" y="100" width="1" height="9.6" fill="#003300" opacity="1"/>
<rect x="188" y="100" width="1" height="0.5" opacity="0.8"/>
<rect x="188" y="109.1" width="1" height="0.5" opacity="0.8"/>
<rect x="189" y="100" width="1" height="9.6" fill="#00ff00" opacity="1"/>
<rect x="189" y="100" width="1" height="0.5" opacity="0.8"/>
<rect x="189" y="109.1" width="1" height="0.5" opacity="0.8"/>
<rect x="190" y="100" width="1" height="9.6" fill="#004f00" opacity="1"/>
<rect x="190" y="100" width="1" height="0.5" opacity="0.8"/>
<rect x="190" y="109.1" width="1" height="0.5" opacity="0.8"/>
</g>
<g>
<rect x="194" y="106" width="1" height="3.6" opacity="0.33"/>
<rect x="194" y="127.4" width="1" height="12.6" opacity="0.33"/>
<rect x="192" y="109.6" width="1" height="17.8" fill="#000000" opacity="0.18"/>
<rect x="192" y="109.6" width="1" height="0.5" opacity="0.14"/>
<rect x="192" y="126.9" width="1" height="0.5" opacity="0.14"/>
<rect x="193" y="109.6" width="1" height="17.8" fill="#00ec00" opacity="1"/>
<rect x="193" y="109.6" width="1" height="0.5" opacity="0.8"/>
<rect x="193" y="126.9" width="1" height="0.5" opacity="0.8"/>
<rect x="194" y="109.6" width="1" height="17.8" fill="#00ff00" opacity="1"/>
<rect x="194" y="109.6" width="1" height="0.5" opacity="0.8"/>
<rect x="194" y="126.9" width="1" height="0.5" opacity="0.8"/>
<rect x="195" y="109.6" width="1" height="17.8" fill="#000000" opacity="0.58"/>
<rect x="195" y="109.6" width="1" height="0.5" opacity="0.47"/>
<rect x="195" y="126.9" width="1" height="0.5" opacity="0.47"/>
</g>
<g>
<rect x="198" y="125" width="1" height="2" opacity="0.65"/>
<rect x="198" y="128" width="1" height="6" opacity="0.65"/>
<rect x="197" y="127.15" width="1" height="0.7" opacity="0.91"/>
<rect x="198" y="127.15" width="1" height="0.7" opacity="1"/>
<rect x="199" y="127.15" width="1" height="0.7" opacity="1"/>
</g>
<g>
<rect x="203" y="125" width="1" height="2" opacity="0.62"/>
<rect x="203" y="130" width="1" height="4" opacity="0.62"/>
<rect x="202" y="127" width="1" height="3" fill="#00a200" opacity="1"/>
<rect x="202" y="127" width="1" height="0.5" opacity="0.8"/>
<rect x="202" y="129.5" width="1" height="0.5" opacity="0.8"/>
<rect x="203" y="127" width="1" height="3" fill="#00ff00" opacity="1"/>
<rect x="203" y="127" width="1" height="0.5" opacity="0.8"/>
<rect x="203" y="129.5" width="1" height="0.5" opacity="0.8"/>
<rect x="204" y="127" width="1" height="3" fill="#000000" opacity="0.88"/>
<rect x="204" y="127" width="1" height="0.5" opacity="0.7"/>
<rect x="204" y="129.5" width="1" height="0.5" opacity="0.7"/>
</g>
<g>
<rect x="207" y="125" width="1" height="5" opacity="0.36"/>
<rect x="207" y="136.6" width="1" height="11.4" opacity="0.36"/>
<rect x="206" y="130" width="1" height="6.6" fill="#000000" opacity="0.62"/>
<rect x="206" y="130" width="1" height="0.5" opacity="0.49"/>
<rect x="206" y="136.1" width="1" height="0.5" opacity="0.49"/>
<rect x="207" y="130" width="1" height="6.6" fill="#00ff00" opacity="1"/>
<rect x="207" y="130" width="1" height="0.5" opacity="0.8"/>
<rect x="207" y="136.1" width="1" height="0.5" opacity="0.8"/>
<rect x="208" y="130" width="1" height="6.6" fill="#00e400" opacity="1"/>
<rect x="208" y="130" width="1" height="0.5" opacity="0.8"/>
<rect x="208" y="136.1" width="1" height="0.5" opacity="0.8"/>
<rect x="209" y="130" width="1" height="6.6" fill="#000000" opacity="0.15"/>
<rect x="209" y="130" width="1" height="0.5" opacity="0.12"/>
<rect x="209" y="136.1" width="1" height="0.5" opacity="0.12"/>
</g>
<g>
<rect x="212" y="115" width="1" height="7" opacity="0.91"/>
<rect x="212" y="137.6" width="1" height="26.4" opacity="0.91"/>
<rect x="211" y="122" width="1" height="15.6" fill="#570000" opacity="1"/>
<rect x="211" y="122" width="1" height="0.5" opacity="0.8"/>
<rect x="211" y="137.1" width="1" height="0.5" opacity="0.8"/>
<rect x="212" y="122" width="1" height="15.6" fill="#ff0000" opacity="1"/>
<rect x="212" y="122" width="1" height="0.5" opacity="0.8"/>
<rect x="212" y="137.1" width="1" height="0.5" opacity="0.8"/>
<rect x="213" y="122" width="1" height="15.6" fill="#2b0000" opacity="1"/>
<rect x="213" y="122" width="1" height="0.5" opacity="0.8"/>
<rect x="213" y="137.1" width="1" height="0.5" opacity="0.8"/>
</g>
<g>
<rect x="216" y="115" width="1" height="7" opacity="0.07"/>
<rect x="216" y="152.4" width="1" height="17.6" opacity="0.07"/>
<rect x="217" y="115" width="1" height="7" opacity="0.19"/>
<rect x="217" y="152.4" width="1" height="17.6" opacity="0.19"/>
<rect x="215" y="122" width="1" height="30.4" fill="#000000" opacity="0.32"/>
<rect x="215" y="122" width="1" height="0.5" opacity="0.26"/>
<rect x="215" y="151.9" width="1" height="0.5" opacity="0.26"/>
<rect x="216" y="122" width="1" height="30.4" fill="#00ff00" opacity="1"/>
<rect x="216" y="122" width="1" height="0.5" opacity="0.8"/>
<rect x="216" y="151.9" width="1" height="0.5" opacity="0.8"/>
<rect x="217" y="122" width="1" height="30.4" fill="#00ff00" opacity="1"/>
<rect x="217" y="122" width="1" height="0.5" opacity="0.8"/>
<rect x="217" y="151.9" width="1" height="0.5" opacity="0.8"/>
<rect x="218" y="122" width="1" height="30.4" fill="#000000" opacity="0.44"/>
<rect x="218" y="122" width="1" height="0.5" opacity="0.35"/>
<rect x="218" y="151.9" width="1" height="0.5" opacity="0.35"/>
</g>
<g>
<rect x="221" y="134" width="1" height="18.4" opacity="0.79"/>
<rect x="221" y="164.4" width="1" height="6.6" opacity="0.79"/>
<rect x="220" y="152.4" width="1" height="12" fill="#000d00" opacity="1"/>
<rect x="220" y="152.4" width="1" height="0.5" opacity="0.8"/>
<rect x="220" y="163.9" width="1" height="0.5" opacity="0.8"/>
<rect x="221" y="152.4" width="1" height="12" fill="#00ff00" opacity="1"/>
<rect x="221" y="152.4" width="1" height="0.5" opacity="0.8"/>
<rect x="221" y="163.9" width="1" height="0.5" opacity="0.8"/>
<rect x="222" y="152.4" width="1" height="12" fill="#007500" opacity="1"/>
<rect x="222" y="152.4" width="1" height="0.5" opacity="0.8"/>
<rect x="222" y="163.9" width="1" height="0.5" opacity="0.8"/>
</g>
<g>
<rect x="226" y="141" width="1" height="3" opacity="0.48"/>
<rect x="226" y="164.4" width="1" height="0.6" opacity="0.48"/>
<rect x="224" y="144" width="1" height="20.4" fill="#000000" opacity="0.03"/>
<rect x="224" y="144" width="1" height="0.5" opacity="0.02"/>
<rect x="224" y="163.9" width="1" height="0.5" opacity="0.02"/>
<rect x="225" y="144" width="1" height="20.4" fill="#c60000" opacity="1"/>
<rect x="225" y="144" width="1" height="0.5" opacity="0.8"/>
<rect x="225" y="163.9" width="1" height="0.5" opacity="0.8"/>
<rect x="226" y="144" width="1" height="20.4" fill="#ff0000" opacity="1"/>
<rect x="226" y="144" width="1" height="0.5" opacity="0.8"/>
<rect x="226" y="163.9" width="1" height="0.5" opacity="0.8"/>
<rect x="227" y="144" width="1" height="20.4" fill="#000000" opacity="0.73"/>
<rect x="227" y="144" width="1" height="0.5" opacity="0.59"/>
<rect x="227" y="163.9" width="1" height="0.5" opacity="0.59"/>
</g>
<g>
<rect x="230" y="143" width="1" height="1" opacity="0.5"/>
<rect x="230" y="153" width="1" height="8" opacity="0.5"/>
<rect x="229" y="144" width="1" height="9" fill="#000000" opacity="0.76"/>
<rect x="229" y="144" width="1" height="0.5" opacity="0.61"/>
<rect x="229" y="152.5" width="1" height="0.5" opacity="0.61"/>
<rect x="230" y="144" width="1" height="9" fill="#00ff00" opacity="1"/>
<rect x="230" y="144" width="1" height="0.5" opacity="0.8"/>
<rect x="230" y="152.5" width="1" height="0.5" opacity="0.8"/>
<rect x="231" y="144" width="1" height="9" fill="#00c000" opacity="1"/>
<rect x="231" y="144" width="1" height="0.5" opacity="0.8"/>
<rect x="231" y="152.5" width="1" height="0.5" opacity="0.8"/>
</g>
<g>
<rect x="235" y="118" width="1" height="9" opacity="0.77"/>
<rect x="235" y="153" width="1" height="1" opacity="0.77"/>
<rect x="234" y="127" width="1" height="26" fill="#7b0000" opacity="1"/>
<rect x="234" y="127" width="1" height="0.5" opacity="0.8"/>
<rect x="234" y="152.5" width="1" height="0.5" opacity="0.8"/>
<rect x="235" y="127" width="1" height="26" fill="#ff0000" opacity="1"/>
<rect x="235" y="127" width="1" height="0.5" opacity="0.8"/>
<rect x="235" y="152.5" width="1" height="0.5" opacity="0.8"/>
<rect x="236" y="127" width="1" height="26" fill="#070000" opacity="1"/>
<rect x="236" y="127" width="1" height="0.5" opacity="0.8"/>
<rect x="236" y="152.5" width="1" height="0.5" opacity="0.8"/>
</g>
<g>
<rect x="239" y="119.6" width="1" height="1" opacity="0.21"/>
<rect x="239" y="127" width="1" height="6" opacity="0.21"/>
<rect x="240" y="119.6" width="1" height="1" opacity="0.04"/>
<rect x="240" y="127" width="1" height="6" opacity="0.04"/>
<rect x="238" y="120.6" width="1" height="6.4" fill="#000000" opacity="0.47"/>
<rect x="238" y="120.6" width="1" height="0.5" opacity="0.37"/>
<rect x="238" y="126.5" width="1" height="0.5" opacity="0.37"/>
<rect x="239" y="120.6" width="1" height="6.4" fill="#ff0000" opacity="1"/>
<rect x="239" y="120.6" width="1" height="0.5" opacity="0.8"/>
<rect x="239" y="126.5" width="1" height="0.5" opacity="0.8"/>
<rect x="240" y="120.6" width="1" height="6.4" fill="#ff0000" opacity="1"/>
<rect x="240" y="120.6" width="1" height="0.5" opacity="0.8"/>
<rect x="240" y="126.5" width="1" height="0.5" opacity="0.8"/>
<rect x="241" y="120.6" width="1" height="6.4" fill="#000000" opacity="0.3"/>
<rect x="241" y="120.6" width="1" height="0.5" opacity="0.24"/>
<rect x="241" y="126.5" width="1" height="0.5" opacity="0.24"/>
</g>
<g>
<rect x="244" y="114.4" width="1" height="4.2" opacity="0.94"/>
<rect x="244" y="121" width="1" height="1.4" opacity="0.94"/>
<rect x="243" y="118.6" width="1" height="2.4" fill="#310000" opacity="1"/>
<rect x="243" y="118.6" width="1" height="0.5" opacity="0.8"/>
<rect x="243" y="120.5" width="1" height="0.5" opacity="0.8"/>
<rect x="244" y="118.6" width="1" height="2.4" fill="#ff0000" opacity="1"/>
<rect x="244" y="118.6" width="1" height="0.5" opacity="0.8"/>
<rect x="244" y="120.5" width="1" height="0.5" opacity="0.8"/>
<rect x="245" y="118.6" width="1" height="2.4" fill="#510000" opacity="1"/>
<rect x="245" y="118.6" width="1" height="0.5" opacity="0.8"/>
<rect x="245" y="120.5" width="1" height="0.5" opacity="0.8"/>
</g>
<g>
<rect x="249" y="118.6" width="1" height="0.8" opacity="0.34"/>
<rect x="249" y="128" width="1" height="1" opacity="0.34"/>
<rect x="247" y="119.4" width="1" height="8.6" fill="#000000" opacity="0.17"/>
<rect x="247" y="119.4" width="1" height="0.5" opacity="0.14"/>
<rect x="247" y="127.5" width="1" height="0.5" opacity="0.14"/>
<rect x="248" y="119.4" width="1" height="8.6" fill="#00ea00" opacity="1"/>
<rect x="248" y="119.4" width="1" height="0.5" opacity="0.8"/>
<rect x="248" y="127.5" width="1" height="0.5" opacity="0.8"/>
<rect x="249" y="119.4" width="1" height="8.6" fill="#00ff00" opacity="1"/>
<rect x="249" y="119.4" width="1" height="0.5" opacity="0.8"/>
<rect x="249" y="127.5" width="1" height="0.5" opacity="0.8"/>
<rect x="250" y="119.4" width="1" height="8.6" fill="#000000" opacity="0.59"/>
<rect x="250" y="119.4" width="1" height="0.5" opacity="0.47"/>
<rect x="250" y="127.5" width="1" height="0.5" opacity="0.47"/>
</g>
<g>
<rect x="253" y="121" width="1" height="7" opacity="0.64"/>
<rect x="253" y="128.6" width="1" height="0.4" opacity="0.64"/>
<rect x="252" y="127.95" width="1" height="0.7" opacity="0.9"/>
<rect x="253" y="127.95" width="1" height="0.7" opacity="1"/>
<rect x="254" y="127.95" width="1" height="0.7" opacity="1"/>
</g>
<g>
<rect x="258" y="116" width="1" height="3" opacity="0.63"/>
<rect x="258" y="128.4" width="1" height="0.6" opacity="0.63"/>
<rect x="257" y="119" width="1" height="9.4" fill="#a00000" opacity="1"/>
<rect x="257" y="119" width="1" height="0.5" opacity="0.8"/>
<rect x="257" y="127.9" width="1" height="0.5" opacity="0.8"/>
<rect x="258" y="119" width="1" height="9.4" fill="#ff0000" opacity="1"/>
<rect x="258" y="119" width="1" height="0.5" opacity="0.8"/>
<rect x="258" y="127.9" width="1" height="0.5" opacity="0.8"/>
<rect x="259" y="119" width="1" height="9.4" fill="#000000" opacity="0.88"/>
<rect x="259" y="119" width="1" height="0.5" opacity="0.71"/>
<rect x="259" y="127.9" width="1" height="0.5" opacity="0.71"/>
</g>
<g>
<rect x="262" y="117" width="1" height="2" opacity="0.35"/>
<rect x="262" y="125" width="1" height="4" opacity="0.35"/>
<rect x="261" y="119" width="1" height="6" fill="#000000" opacity="0.61"/>
<rect x="261" y="119" width="1" height="0.5" opacity="0.49"/>
<rect x="261" y="124.5" width="1" height="0.5" opacity="0.49"/>
<rect x="262" y="119" width="1" height="6" fill="#00ff00" opacity="1"/>
<rect x="262" y="119" width="1" height="0.5" opacity="0.8"/>
<rect x="262" y="124.5" width="1" height="0.5" opacity="0.8"/>
<rect x="263" y="119" width="1" height="6" fill="#00e600" opacity="1"/>
<rect x="263" y="119" width="1" height="0.5" opacity="0.8"/>
<rect x="263" y="124.5" width="1" height="0.5" opacity="0.8"/>
<rect x="264" y="119" width="1" height="6" fill="#000000" opacity="0.16"/>
<rect x="264" y="119" width="1" height="0.5" opacity="0.13"/>
<rect x="264" y="124.5" width="1" height="0.5" opacity="0.13"/>
</g>
<g>
<rect x="267" y="122" width="1" height="3" opacity="0.92"/>
<rect x="267" y="141.4" width="1" height="0.6" opacity="0.92"/>
<rect x="266" y="125" width="1" height="16.4" fill="#005500" opacity="1"/>
<rect x="266" y="125" width="1" height="0.5" opacity="0.8"/>
<rect x="266" y="140.9" width="1" height="0.5" opacity="0.8"/>
<rect x="267" y="125" width="1" height="16.4" fill="#00ff00" opacity="1"/>
<rect x="267" y="125" width="1" height="0.5" opacity="0.8"/>
<rect x="267" y="140.9" width="1" height="0.5" opacity="0.8"/>
<rect x="268" y="125" width="1" height="16.4" fill="#002d00" opacity="1"/>
<rect x="268" y="125" width="1" height="0.5" opacity="0.8"/>
<rect x="268" y="140.9" width="1" height="0.5" opacity="0.8"/>
</g>
<g>
<rect x="271" y="131" width="1" height="10.4" opacity="0.06"/>
<rect x="271" y="145.4" width="1" height="0.6" opacity="0.06"/>
<rect x="272" y="131" width="1" height="10.4" opacity="0.19"/>
<rect x="272" y="145.4" width="1" height="0.6" opacity="0.19"/>
<rect x="270" y="141.4" width="1" height="4" fill="#000000" opacity="0.32"/>
<rect x="270" y="141.4" width="1" height="0.5" opacity="0.25"/>
<rect x="270" y="144.9" width="1" height="0.5" opacity="0.25"/>
<rect x="271" y="141.4" width="1" height="4" fill="#00ff00" opacity="1"/>
<rect x="271" y="141.4" width="1" height="0.5" opacity="0.8"/>
<rect x="271" y="144.9" width="1" height="0.5" opacity="0.8"/>
<rect x="272" y="141.4" width="1" height="4" fill="#00ff00" opacity="1"/>
<rect x="272" y="141.4" width="1" height="0.5" opacity="0.8"/>
<rect x="272" y="144.9" width="1" height="0.5" opacity="0.8"/>
<rect x="273" y="141.4" width="1" height="4" fill="#000000" opacity="0.45"/>
<rect x="273" y="141.4" width="1" height="0.5" opacity="0.36"/>
<rect x="273" y="144.9" width="1" height="0.5" opacity="0.36"/>
</g>
<g>
<rect x="276" y="139" width="1" height="3" opacity="0.79"/>
<rect x="276" y="145.4" width="1" height="1.6" opacity="0.79"/>
<rect x="275" y="142" width="1" height="3.4" fill="#0b0000" opacity="1"/>
<rect x="275" y="142" width="1" height="0.5" opacity="0.8"/>
<rect x="275" y="144.9" width="1" height="0.5" opacity="0.8"/>
<rect x="276" y="142" width="1" height="3.4" fill="#ff0000" opacity="1"/>
<rect x="276" y="142" width="1" height="0.5" opacity="0.8"/>
<rect x="276" y="144.9" width="1" height="0.5" opacity="0.8"/>
<rect x="277" y="142" width="1" height="3.4" fill="#770000" opacity="1"/>
<rect x="277" y="142" width="1" height="0.5" opacity="0.8"/>
<rect x="277" y="144.9" width="1" height="0.5" opacity="0.8"/>
</g>
<g>
<rect x="281" y="139" width="1" height="3" opacity="0.49"/>
<rect x="281" y="145.6" width="1" height="4.4" opacity="0.49"/>
<rect x="279" y="142" width="1" height="3.6" fill="#000000" opacity="0.02"/>
<rect x="279" y="142" width="1" height="0.5" opacity="0.02"/>
<rect x="279" y="145.1" width="1" height="0.5" opacity="0.02"/>
<rect x="280" y="142" width="1" height="3.6" fill="#00c400" opacity="1"/>
<rect x="280" y="142" width="1" height="0.5" opacity="0.8"/>
<rect x="280" y="145.1" width="1" height="0.5" opacity="0.8"/>
<rect x="281" y="142" width="1" height="3.6" fill="#00ff00" opacity="1"/>
<rect x="281" y="142" width="1" height="0.5" opacity="0.8"/>
<rect x="281" y="145.1" width="1" height="0.5" opacity="0.8"/>
<rect x="282" y="142" width="1" height="3.6" fill="#000000" opacity="0.74"/>
<rect x="282" y="142" width="1" height="0.5" opacity="0.59"/>
<rect x="282" y="145.1" width="1" height="0.5" opacity="0.59"/>
</g>
<g>
<rect x="285" y="145" width="1" height="0.6" opacity="0.49"/>
<rect x="285" y="156.4" width="1" height="7.6" opacity="0.49"/>
<rect x="284" y="145.6" width="1" height="10.8" fill="#000000" opacity="0.75"/>
<rect x="284" y="145.6" width="1" height="0.5" opacity="0.6"/>
<rect x="284" y="155.9" width="1" height="0.5" opacity="0.6"/>
<rect x="285" y="145.6" width="1" height="10.8" fill="#00ff00" opacity="1"/>
<rect x="285" y="145.6" width="1" height="0.5" opacity="0.8"/>
<rect x="285" y="155.9" width="1" height="0.5" opacity="0.8"/>
<rect x="286" y="145.6" width="1" height="10.8" fill="#00c200" opacity="1"/>
<rect x="286" y="145.6" width="1" height="0.5" opacity="0.8"/>
<rect x="286" y="155.9" width="1" height="0.5" opacity="0.8"/>
</g>
<g>
<rect x="290" y="151" width="1" height="5.4" opacity="0.78"/>
<rect x="290" y="164.4" width="1" height="9.2" opacity="0.78"/>
<rect x="289" y="156.4" width="1" height="8" fill="#007900" opacity="1"/>
<rect x="289" y="156.4" width="1" height="0.5" opacity="0.8"/>
<rect x="289" y="163.9" width="1" height="0.5" opacity="0.8"/>
<rect x="290" y="156.4" width="1" height="8" fill="#00ff00" opacity="1"/>
<rect x="290" y="156.4" width="1" height="0.5" opacity="0.8"/>
<rect x="290" y="163.9" width="1" height="0.5" opacity="0.8"/>
<rect x="291" y="156.4" width="1" height="8" fill="#000800" opacity="1"/>
<rect x="291" y="156.4" width="1" height="0.5" opacity="0.8"/>
<rect x="291" y="163.9" width="1" height="0.5" opacity="0.8"/>
</g>
<g>
<rect x="294" y="157.6" width="1" height="0.8" opacity="0.2"/>
<rect x="294" y="164.4" width="1" height="2.6" opacity="0.2"/>
<rect x="295" y="157.6" width="1" height="0.8" opacity="0.05"/>
<rect x="295" y="164.4" width="1" height="2.6" opacity="0.05"/>
<rect x="293" y="158.4" width="1" height="6" fill="#000000" opacity="0.46"/>
<rect x="293" y="158.4" width="1" height="0.5" opacity="0.37"/>
<rect x="293" y="163.9" width="1" height="0.5" opacity="0.37"/>
<rect x="294" y="158.4" width="1" height="6" fill="#ff0000" opacity="1"/>
<rect x="294" y="158.4" width="1" height="0.5" opacity="0.8"/>
<rect x="294" y="163.9" width="1" height="0.5" opacity="0.8"/>
<rect x="295" y="158.4" width="1" height="6" fill="#ff0000" opacity="1"/>
<rect x="295" y="158.4" width="1" height="0.5" opacity="0.8"/>
<rect x="295" y="163.9" width="1" height="0.5" opacity="0.8"/>
<rect x="296" y="158.4" width="1" height="6" fill="#000000" opacity="0.31"/>
<rect x="296" y="158.4" width="1" height="0.5" opacity="0.25"/>
<rect x="296" y="163.9" width="1" height="0.5" opacity="0.25"/>
</g>
<g>
<rect x="299" y="136" width="1" height="7" opacity="0.93"/>
<rect x="299" y="158.6" width="1" height="2.8" opacity="0.93"/>
<rect x="298" y="143" width="1" height="15.6" fill="#2f0000" opacity="1"/>
<rect x="298" y="143" width="1" height="0.5" opacity="0.8"/>
<rect x="298" y="158.1" width="1" height="0.5" opacity="0.8"/>
<rect x="299" y="143" width="1" height="15.6" fill="#ff0000" opacity="1"/>
<rect x="299" y="143" width="1" height="0.5" opacity="0.8"/>
<rect x="299" y="158.1" width="1" height="0.5" opacity="0.8"/>
<rect x="300" y="143" width="1" height="15.6" fill="#530000" opacity="1"/>
<rect x="300" y="143" width="1" height="0.5" opacity="0.8"/>
<rect x="300" y="158.1" width="1" height="0.5" opacity="0.8"/>
</g>
<g>
<rect x="304" y="139.4" width="1" height="4" opacity="0.34"/>
<rect x="304" y="148.4" width="1" height="3.2" opacity="0.34"/>
<rect x="302" y="143.4" width="1" height="5" fill="#000000" opacity="0.17"/>
<rect x="302" y="143.4" width="1" height="0.5" opacity="0.13"/>
<rect x="302" y="147.9" width="1" height="0.5" opacity="0.13"/>
<rect x="303" y="143.4" width="1" height="5" fill="#00e800" opacity="1"/>
<rect x="303" y="143.4" width="1" height="0.5" opacity="0.8"/>
<rect x="303" y="147.9" width="1" height="0.5" opacity="0.8"/>
<rect x="304" y="143.4" width="1" height="5" fill="#00ff00" opacity="1"/>
<rect x="304" y="143.4" width="1" height="0.5" opacity="0.8"/>
<rect x="304" y="147.9" width="1" height="0.5" opacity="0.8"/>
<rect x="305" y="143.4" width="1" height="5" fill="#000000" opacity="0.6"/>
<rect x="305" y="143.4" width="1" height="0.5" opacity="0.48"/>
<rect x="305" y="147.9" width="1" height="0.5" opacity="0.48"/>
</g>
<g>
<rect x="308" y="139" width="1" height="8" opacity="0.64"/>
<rect x="308" y="148.6" width="1" height="1.4" opacity="0.64"/>
<rect x="307" y="147" width="1" height="1.6" fill="#000000" opacity="0.89"/>
<rect x="308" y="147" width="1" height="1.6" fill="#590000" opacity="1"/>
<rect x="309" y="147" width="1" height="1.6" fill="#370000" opacity="1"/>
</g>
<g>
<rect x="313" y="140" width="1" height="7" opacity="0.64"/>
<rect x="313" y="155.6" width="1" height="4.4" opacity="0.64"/>
<rect x="312" y="147" width="1" height="8.6" fill="#009e00" opacity="1"/>
<rect x="312" y="147" width="1" height="0.5" opacity="0.8"/>
<rect x="312" y="155.1" width="1" height="0.5" opacity="0.8"/>
<rect x="313" y="147" width="1" height="8.6" fill="#00ff00" opacity="1"/>
<rect x="313" y="147" width="1" height="0.5" opacity="0.8"/>
<rect x="313" y="155.1" width="1" height="0.5" opacity="0.8"/>
<rect x="314" y="147" width="1" height="8.6" fill="#000000" opacity="0.89"/>
<rect x="314" y="147" width="1" height="0.5" opacity="0.71"/>
<rect x="314" y="155.1" width="1" height="0.5" opacity="0.71"/>
</g>
<g>
<rect x="317" y="128" width="1" height="18.4" opacity="0.34"/>
<rect x="317" y="155.6" width="1" height="47" opacity="0.34"/>
<rect x="316" y="146.4" width="1" height="9.2" fill="#000000" opacity="0.6"/>
<rect x="316" y="146.4" width="1" height="0.5" opacity="0.48"/>
<rect x="316" y="155.1" width="1" height="0.5" opacity="0.48"/>
<rect x="317" y="146.4" width="1" height="9.2" fill="#ff0000" opacity="1"/>
<rect x="317" y="146.4" width="1" height="0.5" opacity="0.8"/>
<rect x="317" y="155.1" width="1" height="0.5" opacity="0.8"/>
<rect x="318" y="146.4" width="1" height="9.2" fill="#e80000" opacity="1"/>
<rect x="318" y="146.4" width="1" height="0.5" opacity="0.8"/>
<rect x="318" y="155.1" width="1" height="0.5" opacity="0.8"/>
<rect x="319" y="146.4" width="1" height="9.2" fill="#000000" opacity="0.16"/>
<rect x="319" y="146.4" width="1" height="0.5" opacity="0.13"/>
<rect x="319" y="155.1" width="1" height="0.5" opacity="0.13"/>
</g>
<g>
<rect x="322" y="108" width="1" height="9.6" opacity="0.93"/>
<rect x="322" y="145.4" width="1" height="16.2" opacity="0.93"/>
<rect x="321" y="117.6" width="1" height="27.8" fill="#530000" opacity="1"/>
<rect x="321" y="117.6" width="1" height="0.5" opacity="0.8"/>
<rect x="321" y="144.9" width="1" height="0.5" opacity="0.8"/>
<rect x="322" y="117.6" width="1" height="27.8" fill="#ff0000" opacity="1"/>
<rect x="322" y="117.6" width="1" height="0.5" opacity="0.8"/>
<rect x="322" y="144.9" width="1" height="0.5" opacity="0.8"/>
<rect x="323" y="117.6" width="1" height="27.8" fill="#2f0000" opacity="1"/>
<rect x="323" y="117.6" width="1" height="0.5" opacity="0.8"/>
<rect x="323" y="144.9" width="1" height="0.5" opacity="0.8"/>
</g>
<g>
<rect x="326" y="105.6" width="1" height="12.4" opacity="0.05"/>
<rect x="326" y="136" width="1" height="11" opacity="0.05"/>
<rect x="327" y="105.6" width="1" height="12.4" opacity="0.2"/>
<rect x="327" y="136" width="1" height="11" opacity="0.2"/>
<rect x="325" y="118" width="1" height="18" fill="#000000" opacity="0.31"/>
<rect x="325" y="118" width="1" height="0.5" opacity="0.25"/>
<rect x="325" y="135.5" width="1" height="0.5" opacity="0.25"/>
<rect x="326" y="118" width="1" height="18" fill="#00ff00" opacity="1"/>
<rect x="326" y="118" width="1" height="0.5" opacity="0.8"/>
<rect x="326" y="135.5" width="1" height="0.5" opacity="0.8"/>
<rect x="327" y="118" width="1" height="18" fill="#00ff00" opacity="1"/>
<rect x="327" y="118" width="1" height="0.5" opacity="0.8"/>
<rect x="327" y="135.5" width="1" height="0.5" opacity="0.8"/>
<rect x="328" y="118" width="1" height="18" fill="#000000" opacity="0.46"/>
<rect x="328" y="118" width="1" height="0.5" opacity="0.37"/>
<rect x="328" y="135.5" width="1" height="0.5" opacity="0.37"/>
</g>
<g>
<rect x="331" y="125.6" width="1" height="5.4" opacity="0.78"/>
<rect x="331" y="136" width="1" height="8.4" opacity="0.78"/>
<rect x="330" y="131" width="1" height="5" fill="#090000" opacity="1"/>
<rect x="330" y="131" width="1" height="0.5" opacity="0.8"/>
<rect x="330" y="135.5" width="1" height="0.5" opacity="0.8"/>
<rect x="331" y="131" width="1" height="5" fill="#ff0000" opacity="1"/>
<rect x="331" y="131" width="1" height="0.5" opacity="0.8"/>
<rect x="331" y="135.5" width="1" height="0.5" opacity="0.8"/>
<rect x="332" y="131" width="1" height="5" fill="#790000" opacity="1"/>
<rect x="332" y="131" width="1" height="0.5" opacity="0.8"/>
<rect x="332" y="135.5" width="1" height="0.5" opacity="0.8"/>
</g>
<g>
<rect x="336" y="106" width="1" height="3" opacity="0.49"/>
<rect x="336" y="131.4" width="1" height="0.6" opacity="0.49"/>
<rect x="335" y="109" width="1" height="22.4" fill="#c20000" opacity="1"/>
<rect x="335" y="109" width="1" height="0.5" opacity="0.8"/>
<rect x="335" y="130.9" width="1" height="0.5" opacity="0.8"/>
<rect x="336" y="109" width="1" height="22.4" fill="#ff0000" opacity="1"/>
<rect x="336" y="109" width="1" height="0.5" opacity="0.8"/>
<rect x="336" y="130.9" width="1" height="0.5" opacity="0.8"/>
<rect x="337" y="109" width="1" height="22.4" fill="#000000" opacity="0.75"/>
<rect x="337" y="109" width="1" height="0.5" opacity="0.6"/>
<rect x="337" y="130.9" width="1" height="0.5" opacity="0.6"/>
</g>
<g>
<rect x="340" y="90" width="1" height="6" opacity="0.49"/>
<rect x="340" y="109.4" width="1" height="0.6" opacity="0.49"/>
<rect x="339" y="96" width="1" height="13.4" fill="#000000" opacity="0.74"/>
<rect x="339" y="96" width="1" height="0.5" opacity="0.59"/>
<rect x="339" y="108.9" width="1" height="0.5" opacity="0.59"/>
<rect x="340" y="96" width="1" height="13.4" fill="#ff0000" opacity="1"/>
<rect x="340" y="96" width="1" height="0.5" opacity="0.8"/>
<rect x="340" y="108.9" width="1" height="0.5" opacity="0.8"/>
<rect x="341" y="96" width="1" height="13.4" fill="#c40000" opacity="1"/>
<rect x="341" y="96" width="1" height="0.5" opacity="0.8"/>
<rect x="341" y="108.9" width="1" height="0.5" opacity="0.8"/>
<rect x="342" y="96" width="1" height="13.4" fill="#000000" opacity="0.02"/>
<rect x="342" y="96" width="1" height="0.5" opacity="0.02"/>
<rect x="342" y="108.9" width="1" height="0.5" opacity="0.02"/>
</g>
<g>
<rect x="345" y="94.4" width="1" height="1.6" opacity="0.79"/>
<rect x="345" y="100.4" width="1" height="8.6" opacity="0.79"/>
<rect x="344" y="96" width="1" height="4.4" fill="#007700" opacity="1"/>
<rect x="344" y="96" width="1" height="0.5" opacity="0.8"/>
<rect x="344" y="99.9" width="1" height="0.5" opacity="0.8"/>
<rect x="345" y="96" width="1" height="4.4" fill="#00ff00" opacity="1"/>
<rect x="345" y="96" width="1" height="0.5" opacity="0.8"/>
<rect x="345" y="99.9" width="1" height="0.5" opacity="0.8"/>
<rect x="346" y="96" width="1" height="4.4" fill="#000a00" opacity="1"/>
<rect x="346" y="96" width="1" height="0.5" opacity="0.8"/>
<rect x="346" y="99.9" width="1" height="0.5" opacity="0.8"/>
</g>
<g>
<rect x="349" y="81" width="1" height="7" opacity="0.2"/>
<rect x="349" y="100.4" width="1" height="0.6" opacity="0.2"/>
<rect x="350" y="81" width="1" height="7" opacity="0.06"/>
<rect x="350" y="100.4" width="1" height="0.6" opacity="0.06"/>
<rect x="348" y="88" width="1" height="12.4" fill="#000000" opacity="0.45"/>
<rect x="348" y="88" width="1" height="0.5" opacity="0.36"/>
<rect x="348" y="99.9" width="1" height="0.5" opacity="0.36"/>
<rect x="349" y="88" width="1" height="12.4" fill="#ff0000" opacity="1"/>
<rect x="349" y="88" width="1" height="0.5" opacity="0.8"/>
<rect x="349" y="99.9" width="1" height="0.5" opacity="0.8"/>
<rect x="350" y="88" width="1" height="12.4" fill="#ff0000" opacity="1"/>
<rect x="350" y="88" width="1" height="0.5" opacity="0.8"/>
<rect x="350" y="99.9" width="1" height="0.5" opacity="0.8"/>
<rect x="351" y="88" width="1" height="12.4" fill="#000000" opacity="0.31"/>
<rect x="351" y="88" width="1" height="0.5" opacity="0.25"/>
<rect x="351" y="99.9" width="1" height="0.5" opacity="0.25"/>
</g>
<g>
<rect x="354" y="77.4" width="1" height="10.6" opacity="0.92"/>
<rect x="354" y="91.6" width="1" height="1.4" opacity="0.92"/>
<rect x="353" y="88" width="1" height="3.6" fill="#002d00" opacity="1"/>
<rect x="353" y="88" width="1" height="0.5" opacity="0.8"/>
<rect x="353" y="91.1" width="1" height="0.5" opacity="0.8"/>
<rect x="354" y="88" width="1" height="3.6" fill="#00ff00" opacity="1"/>
<rect x="354" y="88" width="1" height="0.5" opacity="0.8"/>
<rect x="354" y="91.1" width="1" height="0.5" opacity="0.8"/>
<rect x="355" y="88" width="1" height="3.6" fill="#005500" opacity="1"/>
<rect x="355" y="88" width="1" height="0.5" opacity="0.8"/>
<rect x="355" y="91.1" width="1" height="0.5" opacity="0.8"/>
</g>
<g>
<rect x="359" y="83" width="1" height="5" opacity="0.35"/>
<rect x="359" y="91" width="1" height="4.6" opacity="0.35"/>
<rect x="357" y="88" width="1" height="3" fill="#000000" opacity="0.16"/>
<rect x="357" y="88" width="1" height="0.5" opacity="0.13"/>
<rect x="357" y="90.5" width="1" height="0.5" opacity="0.13"/>
<rect x="358" y="88" width="1" height="3" fill="#e60000" opacity="1"/>
<rect x="358" y="88" width="1" height="0.5" opacity="0.8"/>
<rect x="358" y="90.5" width="1" height="0.5" opacity="0.8"/>
<rect x="359" y="88" width="1" height="3" fill="#ff0000" opacity="1"/>
<rect x="359" y="88" width="1" height="0.5" opacity="0.8"/>
<rect x="359" y="90.5" width="1" height="0.5" opacity="0.8"/>
<rect x="360" y="88" width="1" height="3" fill="#000000" opacity="0.61"/>
<rect x="360" y="88" width="1" height="0.5" opacity="0.49"/>
<rect x="360" y="90.5" width="1" height="0.5" opacity="0.49"/>
</g>
<g>
<rect x="363" y="82.4" width="1" height="5.6" opacity="0.63"/>
<rect x="363" y="88.8" width="1" height="4.2" opacity="0.63"/>
<rect x="362" y="88.05" width="1" height="0.7" opacity="0.88"/>
<rect x="363" y="88.05" width="1" height="0.7" opacity="1"/>
<rect x="364" y="88.05" width="1" height="0.7" opacity="1"/>
</g>
<g>
<rect x="368" y="78" width="1" height="4.4" opacity="0.64"/>
<rect x="368" y="88" width="1" height="6.4" opacity="0.64"/>
<rect x="367" y="82.4" width="1" height="5.6" fill="#9c0000" opacity="1"/>
<rect x="367" y="82.4" width="1" height="0.5" opacity="0.8"/>
<rect x="367" y="87.5" width="1" height="0.5" opacity="0.8"/>
<rect x="368" y="82.4" width="1" height="5.6" fill="#ff0000" opacity="1"/>
<rect x="368" y="82.4" width="1" height="0.5" opacity="0.8"/>
<rect x="368" y="87.5" width="1" height="0.5" opacity="0.8"/>
<rect x="369" y="82.4" width="1" height="5.6" fill="#000000" opacity="0.9"/>
<rect x="369" y="82.4" width="1" height="0.5" opacity="0.72"/>
<rect x="369" y="87.5" width="1" height="0.5" opacity="0.72"/>
</g>
<g>
<rect x="372" y="61" width="1" height="5.4" opacity="0.34"/>
<rect x="372" y="82.4" width="1" height="0.6" opacity="0.34"/>
<rect x="371" y="66.4" width="1" height="16" fill="#000000" opacity="0.59"/>
<rect x="371" y="66.4" width="1" height="0.5" opacity="0.47"/>
<rect x="371" y="81.9" width="1" height="0.5" opacity="0.47"/>
<rect x="372" y="66.4" width="1" height="16" fill="#ff0000" opacity="1"/>
<rect x="372" y="66.4" width="1" height="0.5" opacity="0.8"/>
<rect x="372" y="81.9" width="1" height="0.5" opacity="0.8"/>
<rect x="373" y="66.4" width="1" height="16" fill="#ea0000" opacity="1"/>
<rect x="373" y="66.4" width="1" height="0.5" opacity="0.8"/>
<rect x="373" y="81.9" width="1" height="0.5" opacity="0.8"/>
<rect x="374" y="66.4" width="1" height="16" fill="#000000" opacity="0.17"/>
<rect x="374" y="66.4" width="1" height="0.5" opacity="0.14"/>
<rect x="374" y="81.9" width="1" height="0.5" opacity="0.14"/>
</g>
<g>
<rect x="377" y="51" width="1" height="2.6" opacity="0.94"/>
<rect x="377" y="66.4" width="1" height="3.6" opacity="0.94"/>
<rect x="376" y="53.6" width="1" height="12.8" fill="#510000" opacity="1"/>
<rect x="376" y="53.6" width="1" height="0.5" opacity="0.8"/>
<rect x="376" y="65.9" width="1" height="0.5" opacity="0.8"/>
<rect x="377" y="53.6" width="1" height="12.8" fill="#ff0000" opacity="1"/>
<rect x="377" y="53.6" width="1" height="0.5" opacity="0.8"/>
<rect x="377" y="65.9" width="1" height="0.5" opacity="0.8"/>
<rect x="378" y="53.6" width="1" height="12.8" fill="#310000" opacity="1"/>
<rect x="378" y="53.6" width="1" height="0.5" opacity="0.8"/>
<rect x="378" y="65.9" width="1" height="0.5" opacity="0.8"/>
</g>
<g>
<rect x="381" y="51" width="1" height="2.6" opacity="0.05"/>
<rect x="381" y="63" width="1" height="1" opacity="0.05"/>
<rect x="382" y="51" width="1" height="2.6" opacity="0.21"/>
<rect x="382" y="63" width="1" height="1" opacity="0.21"/>
<rect x="380" y="53.6" width="1" height="9.4" fill="#000000" opacity="0.3"/>
<rect x="380" y="53.6" width="1" height="0.5" opacity="0.24"/>
<rect x="380" y="62.5" width="1" height="0.5" opacity="0.24"/>
<rect x="381" y="53.6" width="1" height="9.4" fill="#00ff00" opacity="1"/>
<rect x="381" y="53.6" width="1" height="0.5" opacity="0.8"/>
<rect x="381" y="62.5" width="1" height="0.5" opacity="0.8"/>
<rect x="382" y="53.6" width="1" height="9.4" fill="#00ff00" opacity="1"/>
<rect x="382" y="53.6" width="1" height="0.5" opacity="0.8"/>
<rect x="382" y="62.5" width="1" height="0.5" opacity="0.8"/>
<rect x="383" y="53.6" width="1" height="9.4" fill="#000000" opacity="0.46"/>
<rect x="383" y="53.6" width="1" height="0.5" opacity="0.37"/>
<rect x="383" y="62.5" width="1" height="0.5" opacity="0.37"/>
</g>
<g>
<rect x="386" y="62" width="1" height="1" opacity="0.77"/>
<rect x="386" y="72.4" width="1" height="2" opacity="0.77"/>
<rect x="385" y="63" width="1" height="9.4" fill="#000700" opacity="1"/>
<rect x="385" y="63" width="1" height="0.5" opacity="0.8"/>
<rect x="385" y="71.9" width="1" height="0.5" opacity="0.8"/>
<rect x="386" y="63" width="1" height="9.4" fill="#00ff00" opacity="1"/>
<rect x="386" y="63" width="1" height="0.5" opacity="0.8"/>
<rect x="386" y="71.9" width="1" height="0.5" opacity="0.8"/>
<rect x="387" y="63" width="1" height="9.4" fill="#007b00" opacity="1"/>
<rect x="387" y="63" width="1" height="0.5" opacity="0.8"/>
<rect x="387" y="71.9" width="1" height="0.5" opacity="0.8"/>
</g>
<g>
<rect x="391" y="65.6" width="1" height="6.4" opacity="0.5"/>
<rect x="391" y="72.8" width="1" height="8.8" opacity="0.5"/>
<rect x="390" y="72.05" width="1" height="0.7" opacity="1"/>
<rect x="391" y="72.05" width="1" height="0.7" opacity="1"/>
<rect x="392" y="72.05" width="1" height="0.7" opacity="0.76"/>
</g>
<g>
<rect x="395" y="67" width="1" height="5" opacity="0.48"/>
<rect x="395" y="81.6" width="1" height="8.4" opacity="0.48"/>
<rect x="394" y="72" width="1" height="9.6" fill="#000000" opacity="0.73"/>
<rect x="394" y="72" width="1" height="0.5" opacity="0.59"/>
<rect x="394" y="81.1" width="1" height="0.5" opacity="0.59"/>
<rect x="395" y="72" width="1" height="9.6" fill="#00ff00" opacity="1"/>
<rect x="395" y="72" width="1" height="0.5" opacity="0.8"/>
<rect x="395" y="81.1" width="1" height="0.5" opacity="0.8"/>
<rect x="396" y="72" width="1" height="9.6" fill="#00c600" opacity="1"/>
<rect x="396" y="72" width="1" height="0.5" opacity="0.8"/>
<rect x="396" y="81.1" width="1" height="0.5" opacity="0.8"/>
<rect x="397" y="72" width="1" height="9.6" fill="#000000" opacity="0.03"/>
<rect x="397" y="72" width="1" height="0.5" opacity="0.02"/>
<rect x="397" y="81.1" width="1" height="0.5" opacity="0.02"/>
</g>
<g>
<rect x="400" y="75" width="1" height="6" opacity="0.79"/>
<rect x="400" y="82.4" width="1" height="4.2" opacity="0.79"/>
<rect x="399" y="81" width="1" height="1.4" fill="#002900" opacity="1"/>
<rect x="400" y="81" width="1" height="1.4" fill="#005900" opacity="1"/>
<rect x="401" y="81" width="1" height="1.4" fill="#000400" opacity="1"/>
</g>
<g>
<rect x="404" y="73.6" width="1" height="0.8" opacity="0.19"/>
<rect x="404" y="82.4" width="1" height="4.6" opacity="0.19"/>
<rect x="405" y="73.6" width="1" height="0.8" opacity="0.07"/>
<rect x="405" y="82.4" width="1" height="4.6" opacity="0.07"/>
<rect x="403" y="74.4" width="1" height="8" fill="#000000" opacity="0.44"/>
<rect x="403" y="74.4" width="1" height="0.5" opacity="0.35"/>
<rect x="403" y="81.9" width="1" height="0.5" opacity="0.35"/>
<rect x="404" y="74.4" width="1" height="8" fill="#ff0000" opacity="1"/>
<rect x="404" y="74.4" width="1" height="0.5" opacity="0.8"/>
<rect x="404" y="81.9" width="1" height="0.5" opacity="0.8"/>
<rect x="405" y="74.4" width="1" height="8" fill="#ff0000" opacity="1"/>
<rect x="405" y="74.4" width="1" height="0.5" opacity="0.8"/>
<rect x="405" y="81.9" width="1" height="0.5" opacity="0.8"/>
<rect x="406" y="74.4" width="1" height="8" fill="#000000" opacity="0.32"/>
<rect x="406" y="74.4" width="1" height="0.5" opacity="0.26"/>
<rect x="406" y="81.9" width="1" height="0.5" opacity="0.26"/>
</g>
<g>
<rect x="409" y="70" width="1" height="4.4" opacity="0.91"/>
<rect x="409" y="84" width="1" height="3" opacity="0.91"/>
<rect x="408" y="74.4" width="1" height="9.6" fill="#002b00" opacity="1"/>
<rect x="408" y="74.4" width="1" height="0.5" opacity="0.8"/>
<rect x="408" y="83.5" width="1" height="0.5" opacity="0.8"/>
<rect x="409" y="74.4" width="1" height="9.6" fill="#00ff00" opacity="1"/>
<rect x="409" y="74.4" width="1" height="0.5" opacity="0.8"/>
<rect x="409" y="83.5" width="1" height="0.5" opacity="0.8"/>
<rect x="410" y="74.4" width="1" height="9.6" fill="#005700" opacity="1"/>
<rect x="410" y="74.4" width="1" height="0.5" opacity="0.8"/>
<rect x="410" y="83.5" width="1" height="0.5" opacity="0.8"/>
</g>
<g>
<rect x="414" y="82.4" width="1" height="0.8" opacity="0.36"/>
<rect x="414" y="84" width="1" height="10.4" opacity="0.36"/>
<rect x="412" y="83.25" width="1" height="0.7" opacity="0.15"/>
<rect x="413" y="83.25" width="1" height="0.7" opacity="1"/>
<rect x="414" y="83.25" width="1" height="0.7" opacity="1"/>
<rect x="415" y="83.25" width="1" height="0.7" opacity="0.61"/>
</g>
<g>
<rect x="418" y="81" width="1" height="2.2" opacity="0.62"/>
<rect x="418" y="84" width="1" height="13" opacity="0.62"/>
<rect x="417" y="83.25" width="1" height="0.7" opacity="0.88"/>
<rect x="418" y="83.25" width="1" height="0.7" opacity="1"/>
<rect x="419" y="83.25" width="1" height="0.7" opacity="1"/>
</g>
<g>
<rect x="423" y="74.4" width="1" height="6" opacity="0.65"/>
<rect x="423" y="83.6" width="1" height="0.8" opacity="0.65"/>
<rect x="422" y="80.4" width="1" height="3.2" fill="#9a0000" opacity="1"/>
<rect x="422" y="80.4" width="1" height="0.5" opacity="0.8"/>
<rect x="422" y="83.1" width="1" height="0.5" opacity="0.8"/>
<rect x="423" y="80.4" width="1" height="3.2" fill="#ff0000" opacity="1"/>
<rect x="423" y="80.4" width="1" height="0.5" opacity="0.8"/>
<rect x="423" y="83.1" width="1" height="0.5" opacity="0.8"/>
<rect x="424" y="80.4" width="1" height="3.2" fill="#000000" opacity="0.91"/>
<rect x="424" y="80.4" width="1" height="0.5" opacity="0.73"/>
<rect x="424" y="83.1" width="1" height="0.5" opacity="0.73"/>
</g>
<g>
<rect x="427" y="74.4" width="1" height="1" opacity="0.33"/>
<rect x="427" y="80.4" width="1" height="8" opacity="0.33"/>
<rect x="426" y="75.4" width="1" height="5" fill="#000000" opacity="0.58"/>
<rect x="426" y="75.4" width="1" height="0.5" opacity="0.47"/>
<rect x="426" y="79.9" width="1" height="0.5" opacity="0.47"/>
<rect x="427" y="75.4" width="1" height="5" fill="#ff0000" opacity="1"/>
<rect x="427" y="75.4" width="1" height="0.5" opacity="0.8"/>
<rect x="427" y="79.9" width="1" height="0.5" opacity="0.8"/>
<rect x="428" y="75.4" width="1" height="5" fill="#ec0000" opacity="1"/>
<rect x="428" y="75.4" width="1" height="0.5" opacity="0.8"/>
<rect x="428" y="79.9" width="1" height="0.5" opacity="0.8"/>
<rect x="429" y="75.4" width="1" height="5" fill="#000000" opacity="0.18"/>
<rect x="429" y="75.4" width="1" height="0.5" opacity="0.14"/>
<rect x="429" y="79.9" width="1" height="0.5" opacity="0.14"/>
</g>
<g>
<rect x="432" y="71" width="1" height="4.4" opacity="0.94"/>
<rect x="432" y="80.4" width="1" height="5.2" opacity="0.94"/>
<rect x="431" y="75.4" width="1" height="5" fill="#004f00" opacity="1"/>
<rect x="431" y="75.4" width="1" height="0.5" opacity="0.8"/>
<rect x="431" y="79.9" width="1" height="0.5" opacity="0.8"/>
<rect x="432" y="75.4" width="1" height="5" fill="#00ff00" opacity="1"/>
<rect x="432" y="75.4" width="1" height="0.5" opacity="0.8"/>
<rect x="432" y="79.9" width="1" height="0.5" opacity="0.8"/>
<rect x="433" y="75.4" width="1" height="5" fill="#003300" opacity="1"/>
<rect x="433" y="75.4" width="1" height="0.5" opacity="0.8"/>
<rect x="433" y="79.9" width="1" height="0.5" opacity="0.8"/>
</g>
<g>
<rect x="436" y="78" width="1" height="1.6" opacity="0.04"/>
<rect x="436" y="80.6" width="1" height="3" opacity="0.04"/>
<rect x="437" y="78" width="1" height="1.6" opacity="0.22"/>
<rect x="437" y="80.6" width="1" height="3" opacity="0.22"/>
<rect x="435" y="79.6" width="1" height="1" fill="#000000" opacity="0.29"/>
<rect x="436" y="79.6" width="1" height="1" fill="#590000" opacity="1"/>
<rect x="437" y="79.6" width="1" height="1" fill="#590000" opacity="1"/>
<rect x="438" y="79.6" width="1" height="1" fill="#000000" opacity="0.47"/>
</g>
<g>
<rect x="441" y="73.6" width="1" height="0.8" opacity="0.76"/>
<rect x="441" y="81" width="1" height="1.4" opacity="0.76"/>
<rect x="440" y="74.4" width="1" height="6.6" fill="#000000" opacity="0.98"/>
<rect x="440" y="74.4" width="1" height="0.5" opacity="0.79"/>
<rect x="440" y="80.5" width="1" height="0.5" opacity="0.79"/>
<rect x="441" y="74.4" width="1" height="6.6" fill="#ff0000" opacity="1"/>
<rect x="441" y="74.4" width="1" height="0.5" opacity="0.8"/>
<rect x="441" y="80.5" width="1" height="0.5" opacity="0.8"/>
<rect x="442" y="74.4" width="1" height="6.6" fill="#7d0000" opacity="1"/>
<rect x="442" y="74.4" width="1" height="0.5" opacity="0.8"/>
<rect x="442" y="80.5" width="1" height="0.5" opacity="0.8"/>
</g>
<g>
<rect x="446" y="64" width="1" height="3" opacity="0.51"/>
<rect x="446" y="73" width="1" height="1.4" opacity="0.51"/>
<rect x="445" y="67" width="1" height="6" fill="#be0000" opacity="1"/>
<rect x="445" y="67" width="1" height="0.5" opacity="0.8"/>
<rect x="445" y="72.5" width="1" height="0.5" opacity="0.8"/>
<rect x="446" y="67" width="1" height="6" fill="#ff0000" opacity="1"/>
<rect x="446" y="67" width="1" height="0.5" opacity="0.8"/>
<rect x="446" y="72.5" width="1" height="0.5" opacity="0.8"/>
<rect x="447" y="67" width="1" height="6" fill="#000000" opacity="0.76"/>
<rect x="447" y="67" width="1" height="0.5" opacity="0.61"/>
<rect x="447" y="72.5" width="1" height="0.5" opacity="0.61"/>
</g>
<g>
<rect x="450" y="64" width="1" height="1" opacity="0.47"/>
<rect x="450" y="67.4" width="1" height="2.6" opacity="0.47"/>
<rect x="449" y="65" width="1" height="2.4" fill="#000000" opacity="0.73"/>
<rect x="449" y="65" width="1" height="0.5" opacity="0.58"/>
<rect x="449" y="66.9" width="1" height="0.5" opacity="0.58"/>
<rect x="450" y="65" width="1" height="2.4" fill="#ff0000" opacity="1"/>
<rect x="450" y="65" width="1" height="0.5" opacity="0.8"/>
<rect x="450" y="66.9" width="1" height="0.5" opacity="0.8"/>
<rect x="451" y="65" width="1" height="2.4" fill="#c80000" opacity="1"/>
<rect x="451" y="65" width="1" height="0.5" opacity="0.8"/>
<rect x="451" y="66.9" width="1" height="0.5" opacity="0.8"/>
<rect x="452" y="65" width="1" height="2.4" fill="#000000" opacity="0.04"/>
<rect x="452" y="65" width="1" height="0.5" opacity="0.03"/>
<rect x="452" y="66.9" width="1" height="0.5" opacity="0.03"/>
</g>
<g>
<rect x="455" y="62" width="1" height="2.6" opacity="0.8"/>
<rect x="455" y="65.4" width="1" height="10.2" opacity="0.8"/>
<rect x="454" y="64.65" width="1" height="0.7" opacity="1"/>
<rect x="455" y="64.65" width="1" height="0.7" opacity="1"/>
<rect x="456" y="64.65" width="1" height="0.7" opacity="1"/>
</g>
<g>
<rect x="459" y="34" width="1" height="10" opacity="0.18"/>
<rect x="459" y="65" width="1" height="10" opacity="0.18"/>
<rect x="460" y="34" width="1" height="10" opacity="0.07"/>
<rect x="460" y="65" width="1" height="10" opacity="0.07"/>
<rect x="458" y="44" width="1" height="21" fill="#000000" opacity="0.43"/>
<rect x="458" y="44" width="1" height="0.5" opacity="0.35"/>
<rect x="458" y="64.5" width="1" height="0.5" opacity="0.35"/>
<rect x="459" y="44" width="1" height="21" fill="#ff0000" opacity="1"/>
<rect x="459" y="44" width="1" height="0.5" opacity="0.8"/>
<rect x="459" y="64.5" width="1" height="0.5" opacity="0.8"/>
<rect x="460" y="44" width="1" height="21" fill="#ff0000" opacity="1"/>
<rect x="460" y="44" width="1" height="0.5" opacity="0.8"/>
<rect x="460" y="64.5" width="1" height="0.5" opacity="0.8"/>
<rect x="461" y="44" width="1" height="21" fill="#000000" opacity="0.33"/>
<rect x="461" y="44" width="1" height="0.5" opacity="0.26"/>
<rect x="461" y="64.5" width="1" height="0.5" opacity="0.26"/>
</g>
<g>
<rect x="464" y="30" width="1" height="14" opacity="0.91"/>
<rect x="464" y="48.6" width="1" height="1.4" opacity="0.91"/>
<rect x="463" y="44" width="1" height="4.6" fill="#002900" opacity="1"/>
<rect x="463" y="44" width="1" height="0.5" opacity="0.8"/>
<rect x="463" y="48.1" width="1" height="0.5" opacity="0.8"/>
<rect x="464" y="44" width="1" height="4.6" fill="#00ff00" opacity="1"/>
<rect x="464" y="44" width="1" height="0.5" opacity="0.8"/>
<rect x="464" y="48.1" width="1" height="0.5" opacity="0.8"/>
<rect x="465" y="44" width="1" height="4.6" fill="#005900" opacity="1"/>
<rect x="465" y="44" width="1" height="0.5" opacity="0.8"/>
<rect x="465" y="48.1" width="1" height="0.5" opacity="0.8"/>
</g>
<g>
<rect x="469" y="38" width="1" height="9" opacity="0.37"/>
<rect x="469" y="48.4" width="1" height="0.6" opacity="0.37"/>
<rect x="467" y="47" width="1" height="1.4" fill="#000000" opacity="0.14"/>
<rect x="468" y="47" width="1" height="1.4" fill="#4f0000" opacity="1"/>
<rect x="469" y="47" width="1" height="1.4" fill="#590000" opacity="1"/>
<rect x="470" y="47" width="1" height="1.4" fill="#000000" opacity="0.62"/>
</g>
<g>
<rect x="473" y="42" width="1" height="5" opacity="0.61"/>
<rect x="473" y="52" width="1" height="1" opacity="0.61"/>
<rect x="472" y="47" width="1" height="5" fill="#000000" opacity="0.87"/>
<rect x="472" y="47" width="1" height="0.5" opacity="0.7"/>
<rect x="472" y="51.5" width="1" height="0.5" opacity="0.7"/>
<rect x="473" y="47" width="1" height="5" fill="#00ff00" opacity="1"/>
<rect x="473" y="47" width="1" height="0.5" opacity="0.8"/>
<rect x="473" y="51.5" width="1" height="0.5" opacity="0.8"/>
<rect x="474" y="47" width="1" height="5" fill="#00a300" opacity="1"/>
<rect x="474" y="47" width="1" height="0.5" opacity="0.8"/>
<rect x="474" y="51.5" width="1" height="0.5" opacity="0.8"/>
</g>
<g>
<rect x="478" y="40" width="1" height="2" opacity="0.66"/>
<rect x="478" y="52" width="1" height="3.6" opacity="0.66"/>
<rect x="477" y="42" width="1" height="10" fill="#980000" opacity="1"/>
<rect x="477" y="42" width="1" height="0.5" opacity="0.8"/>
<rect x="477" y="51.5" width="1" height="0.5" opacity="0.8"/>
<rect x="478" y="42" width="1" height="10" fill="#ff0000" opacity="1"/>
<rect x="478" y="42" width="1" height="0.5" opacity="0.8"/>
<rect x="478" y="51.5" width="1" height="0.5" opacity="0.8"/>
<rect x="479" y="42" width="1" height="10" fill="#000000" opacity="0.91"/>
<rect x="479" y="42" width="1" height="0.5" opacity="0.73"/>
<rect x="479" y="51.5" width="1" height="0.5" opacity="0.73"/>
</g>
<g>
<rect x="482" y="20" width="1" height="6.4" opacity="0.32"/>
<rect x="482" y="42" width="1" height="1" opacity="0.32"/>
<rect x="481" y="26.4" width="1" height="15.6" fill="#000000" opacity="0.58"/>
<rect x="481" y="26.4" width="1" height="0.5" opacity="0.46"/>
<rect x="481" y="41.5" width="1" height="0.5" opacity="0.46"/>
<rect x="482" y="26.4" width="1" height="15.6" fill="#ff0000" opacity="1"/>
<rect x="482" y="26.4" width="1" height="0.5" opacity="0.8"/>
<rect x="482" y="41.5" width="1" height="0.5" opacity="0.8"/>
<rect x="483" y="26.4" width="1" height="15.6" fill="#ee0000" opacity="1"/>
<rect x="483" y="26.4" width="1" height="0.5" opacity="0.8"/>
<rect x="483" y="41.5" width="1" height="0.5" opacity="0.8"/>
<rect x="484" y="26.4" width="1" height="15.6" fill="#000000" opacity="0.19"/>
<rect x="484" y="26.4" width="1" height="0.5" opacity="0.15"/>
<rect x="484" y="41.5" width="1" height="0.5" opacity="0.15"/>
</g>
<g>
<rect x="487" y="25.6" width="1" height="0.8" opacity="0.95"/>
<rect x="487" y="40" width="1" height="6" opacity="0.95"/>
<rect x="486" y="26.4" width="1" height="13.6" fill="#004d00" opacity="1"/>
<rect x="486" y="26.4" width="1" height="0.5" opacity="0.8"/>
<rect x="486" y="39.5" width="1" height="0.5" opacity="0.8"/>
<rect x="487" y="26.4" width="1" height="13.6" fill="#00ff00" opacity="1"/>
<rect x="487" y="26.4" width="1" height="0.5" opacity="0.8"/>
<rect x="487" y="39.5" width="1" height="0.5" opacity="0.8"/>
<rect x="488" y="26.4" width="1" height="13.6" fill="#003500" opacity="1"/>
<rect x="488" y="26.4" width="1" height="0.5" opacity="0.8"/>
<rect x="488" y="39.5" width="1" height="0.5" opacity="0.8"/>
</g>
<g>
<rect x="491" y="39" width="1" height="1" opacity="0.03"/>
<rect x="491" y="46.4" width="1" height="33.6" opacity="0.03"/>
<rect x="492" y="39" width="1" height="1" opacity="0.22"/>
<rect x="492" y="46.4" width="1" height="33.6" opacity="0.22"/>
<rect x="490" y="40" width="1" height="6.4" fill="#000000" opacity="0.28"/>
<rect x="490" y="40" width="1" height="0.5" opacity="0.23"/>
<rect x="490" y="45.9" width="1" height="0.5" opacity="0.23"/>
<rect x="491" y="40" width="1" height="6.4" fill="#00ff00" opacity="1"/>
<rect x="491" y="40" width="1" height="0.5" opacity="0.8"/>
<rect x="491" y="45.9" width="1" height="0.5" opacity="0.8"/>
<rect x="492" y="40" width="1" height="6.4" fill="#00ff00" opacity="1"/>
<rect x="492" y="40" width="1" height="0.5" opacity="0.8"/>
<rect x="492" y="45.9" width="1" height="0.5" opacity="0.8"/>
<rect x="493" y="40" width="1" height="6.4" fill="#000000" opacity="0.48"/>
<rect x="493" y="40" width="1" height="0.5" opacity="0.38"/>
<rect x="493" y="45.9" width="1" height="0.5" opacity="0.38"/>
</g>
<g>
<rect x="496" y="44" width="1" height="2.4" opacity="0.76"/>
<rect x="496" y="78.4" width="1" height="0.6" opacity="0.76"/>
<rect x="495" y="46.4" width="1" height="32" fill="#000000" opacity="0.99"/>
<rect x="495" y="46.4" width="1" height="0.5" opacity="0.79"/>
<rect x="495" y="77.9" width="1" height="0.5" opacity="0.79"/>
<rect x="496" y="46.4" width="1" height="32" fill="#00ff00" opacity="1"/>
<rect x="496" y="46.4" width="1" height="0.5" opacity="0.8"/>
<rect x="496" y="77.9" width="1" height="0.5" opacity="0.8"/>
<rect x="497" y="46.4" width="1" height="32" fill="#007f00" opacity="1"/>
<rect x="497" y="46.4" width="1" height="0.5" opacity="0.8"/>
<rect x="497" y="77.9" width="1" height="0.5" opacity="0.8"/>
</g>
<g>
<rect x="501" y="65" width="1" height="10" opacity="0.52"/>
<rect x="501" y="79" width="1" height="4" opacity="0.52"/>
<rect x="500" y="75" width="1" height="4" fill="#bc0000" opacity="1"/>
<rect x="500" y="75" width="1" height="0.5" opacity="0.8"/>
<rect x="500" y="78.5" width="1" height="0.5" opacity="0.8"/>
<rect x="501" y="75" width="1" height="4" fill="#ff0000" opacity="1"/>
<rect x="501" y="75" width="1" height="0.5" opacity="0.8"/>
<rect x="501" y="78.5" width="1" height="0.5" opacity="0.8"/>
<rect x="502" y="75" width="1" height="4" fill="#000000" opacity="0.77"/>
<rect x="502" y="75" width="1" height="0.5" opacity="0.62"/>
<rect x="502" y="78.5" width="1" height="0.5" opacity="0.62"/>
</g>
<g>
<rect x="505" y="59" width="1" height="0.6" opacity="0.46"/>
<rect x="505" y="74.4" width="1" height="8.6" opacity="0.46"/>
<rect x="504" y="59.6" width="1" height="14.8" fill="#000000" opacity="0.72"/>
<rect x="504" y="59.6" width="1" height="0.5" opacity="0.58"/>
<rect x="504" y="73.9" width="1" height="0.5" opacity="0.58"/>
<rect x="505" y="59.6" width="1" height="14.8" fill="#ff0000" opacity="1"/>
<rect x="505" y="59.6" width="1" height="0.5" opacity="0.8"/>
<rect x="505" y="73.9" width="1" height="0.5" opacity="0.8"/>
<rect x="506" y="59.6" width="1" height="14.8" fill="#ca0000" opacity="1"/>
<rect x="506" y="59.6" width="1" height="0.5" opacity="0.8"/>
<rect x="506" y="73.9" width="1" height="0.5" opacity="0.8"/>
<rect x="507" y="59.6" width="1" height="14.8" fill="#000000" opacity="0.05"/>
<rect x="507" y="59.6" width="1" height="0.5" opacity="0.04"/>
<rect x="507" y="73.9" width="1" height="0.5" opacity="0.04"/>
</g>
<g>
<rect x="510" y="48" width="1" height="6" opacity="0.81"/>
<rect x="510" y="60" width="1" height="7.6" opacity="0.81"/>
<rect x="509" y="54" width="1" height="6" fill="#720000" opacity="1"/>
<rect x="509" y="54" width="1" height="0.5" opacity="0.8"/>
<rect x="509" y="59.5" width="1" height="0.5" opacity="0.8"/>
<rect x="510" y="54" width="1" height="6" fill="#ff0000" opacity="1"/>
<rect x="510" y="54" width="1" height="0.5" opacity="0.8"/>
<rect x="510" y="59.5" width="1" height="0.5" opacity="0.8"/>
<rect x="511" y="54" width="1" height="6" fill="#100000" opacity="1"/>
<rect x="511" y="54" width="1" height="0.5" opacity="0.8"/>
<rect x="511" y="59.5" width="1" height="0.5" opacity="0.8"/>
</g>
<g>
<rect x="514" y="44" width="1" height="9" opacity="0.17"/>
<rect x="514" y="88.4" width="1" height="8.6" opacity="0.17"/>
<rect x="515" y="44" width="1" height="9" opacity="0.08"/>
<rect x="515" y="88.4" width="1" height="8.6" opacity="0.08"/>
<rect x="513" y="53" width="1" height="35.4" fill="#000000" opacity="0.43"/>
<rect x="513" y="53" width="1" height="0.5" opacity="0.34"/>
<rect x="513" y="87.9" width="1" height="0.5" opacity="0.34"/>
<rect x="514" y="53" width="1" height="35.4" fill="#00ff00" opacity="1"/>
<rect x="514" y="53" width="1" height="0.5" opacity="0.8"/>
<rect x="514" y="87.9" width="1" height="0.5" opacity="0.8"/>
<rect x="515" y="53" width="1" height="35.4" fill="#00ff00" opacity="1"/>
<rect x="515" y="53" width="1" height="0.5" opacity="0.8"/>
<rect x="515" y="87.9" width="1" height="0.5" opacity="0.8"/>
<rect x="516" y="53" width="1" height="35.4" fill="#000000" opacity="0.34"/>
<rect x="516" y="53" width="1" height="0.5" opacity="0.27"/>
<rect x="516" y="87.9" width="1" height="0.5" opacity="0.27"/>
</g>
<g>
<rect x="519" y="60" width="1" height="28" opacity="0.9"/>
<rect x="519" y="135" width="1" height="13" opacity="0.9"/>
<rect x="518" y="88" width="1" height="47" fill="#002700" opacity="1"/>
<rect x="518" y="88" width="1" height="0.5" opacity="0.8"/>
<rect x="518" y="134.5" width="1" height="0.5" opacity="0.8"/>
<rect x="519" y="88" width="1" height="47" fill="#00ff00" opacity="1"/>
<rect x="519" y="88" width="1" height="0.5" opacity="0.8"/>
<rect x="519" y="134.5" width="1" height="0.5" opacity="0.8"/>
<rect x="520" y="88" width="1" height="47" fill="#005b00" opacity="1"/>
<rect x="520" y="88" width="1" height="0.5" opacity="0.8"/>
<rect x="520" y="134.5" width="1" height="0.5" opacity="0.8"/>
</g>
<g>
<rect x="524" y="109" width="1" height="0.6" opacity="0.37"/>
<rect x="524" y="135.6" width="1" height="6" opacity="0.37"/>
<rect x="522" y="109.6" width="1" height="26" fill="#000000" opacity="0.13"/>
<rect x="522" y="109.6" width="1" height="0.5" opacity="0.11"/>
<rect x="522" y="135.1" width="1" height="0.5" opacity="0.11"/>
<rect x="523" y="109.6" width="1" height="26" fill="#e00000" opacity="1"/>
<rect x="523" y="109.6" width="1" height="0.5" opacity="0.8"/>
<rect x="523" y="135.1" width="1" height="0.5" opacity="0.8"/>
<rect x="524" y="109.6" width="1" height="26" fill="#ff0000" opacity="1"/>
<rect x="524" y="109.6" width="1" height="0.5" opacity="0.8"/>
<rect x="524" y="135.1" width="1" height="0.5" opacity="0.8"/>
<rect x="525" y="109.6" width="1" height="26" fill="#000000" opacity="0.63"/>
<rect x="525" y="109.6" width="1" height="0.5" opacity="0.5"/>
<rect x="525" y="135.1" width="1" height="0.5" opacity="0.5"/>
</g>
<g>
<rect x="528" y="87" width="1" height="4" opacity="0.61"/>
<rect x="528" y="109.6" width="1" height="2.4" opacity="0.61"/>
<rect x="527" y="91" width="1" height="18.6" fill="#000000" opacity="0.86"/>
<rect x="527" y="91" width="1" height="0.5" opacity="0.69"/>
<rect x="527" y="109.1" width="1" height="0.5" opacity="0.69"/>
<rect x="528" y="91" width="1" height="18.6" fill="#ff0000" opacity="1"/>
<rect x="528" y="91" width="1" height="0.5" opacity="0.8"/>
<rect x="528" y="109.1" width="1" height="0.5" opacity="0.8"/>
<rect x="529" y="91" width="1" height="18.6" fill="#a50000" opacity="1"/>
<rect x="529" y="91" width="1" height="0.5" opacity="0.8"/>
<rect x="529" y="109.1" width="1" height="0.5" opacity="0.8"/>
</g>
<g>
<rect x="533" y="88" width="1" height="2.6" opacity="0.67"/>
<rect x="533" y="91.4" width="1" height="7.6" opacity="0.67"/>
<rect x="532" y="90.65" width="1" height="0.7" opacity="1"/>
<rect x="533" y="90.65" width="1" height="0.7" opacity="1"/>
<rect x="534" y="90.65" width="1" height="0.7" opacity="0.92"/>
</g>
<g>
<rect x="537" y="89" width="1" height="2" opacity="0.31"/>
<rect x="537" y="103.6" width="1" height="0.8" opacity="0.31"/>
<rect x="536" y="91" width="1" height="12.6" fill="#000000" opacity="0.57"/>
<rect x="536" y="91" width="1" height="0.5" opacity="0.46"/>
<rect x="536" y="103.1" width="1" height="0.5" opacity="0.46"/>
<rect x="537" y="91" width="1" height="12.6" fill="#00ff00" opacity="1"/>
<rect x="537" y="91" width="1" height="0.5" opacity="0.8"/>
<rect x="537" y="103.1" width="1" height="0.5" opacity="0.8"/>
<rect x="538" y="91" width="1" height="12.6" fill="#00f000" opacity="1"/>
<rect x="538" y="91" width="1" height="0.5" opacity="0.8"/>
<rect x="538" y="103.1" width="1" height="0.5" opacity="0.8"/>
<rect x="539" y="91" width="1" height="12.6" fill="#000000" opacity="0.2"/>
<rect x="539" y="91" width="1" height="0.5" opacity="0.16"/>
<rect x="539" y="103.1" width="1" height="0.5" opacity="0.16"/>
</g>
<g>
<rect x="542" y="103" width="1" height="0.6" opacity="0.96"/>
<rect x="542" y="109" width="1" height="5.4" opacity="0.96"/>
<rect x="541" y="103.6" width="1" height="5.4" fill="#004b00" opacity="1"/>
<rect x="541" y="103.6" width="1" height="0.5" opacity="0.8"/>
<rect x="541" y="108.5" width="1" height="0.5" opacity="0.8"/>
<rect x="542" y="103.6" width="1" height="5.4" fill="#00ff00" opacity="1"/>
<rect x="542" y="103.6" width="1" height="0.5" opacity="0.8"/>
<rect x="542" y="108.5" width="1" height="0.5" opacity="0.8"/>
<rect x="543" y="103.6" width="1" height="5.4" fill="#003700" opacity="1"/>
<rect x="543" y="103.6" width="1" height="0.5" opacity="0.8"/>
<rect x="543" y="108.5" width="1" height="0.5" opacity="0.8"/>
</g>
<g>
<rect x="546" y="105.6" width="1" height="2" opacity="0.02"/>
<rect x="546" y="108.4" width="1" height="4.6" opacity="0.02"/>
<rect x="547" y="105.6" width="1" height="2" opacity="0.23"/>
<rect x="547" y="108.4" width="1" height="4.6" opacity="0.23"/>
<rect x="545" y="107.65" width="1" height="0.7" opacity="0.28"/>
<rect x="546" y="107.65" width="1" height="0.7" opacity="1"/>
<rect x="547" y="107.65" width="1" height="0.7" opacity="1"/>
<rect x="548" y="107.65" width="1" height="0.7" opacity="0.49"/>
</g>
<g>
<rect x="551" y="105" width="1" height="5" opacity="0.75"/>
<rect x="551" y="112.4" width="1" height="3.6" opacity="0.75"/>
<rect x="550" y="110" width="1" height="2.4" fill="#000000" opacity="1"/>
<rect x="550" y="110" width="1" height="0.5" opacity="0.8"/>
<rect x="550" y="111.9" width="1" height="0.5" opacity="0.8"/>
<rect x="551" y="110" width="1" height="2.4" fill="#00ff00" opacity="1"/>
<rect x="551" y="110" width="1" height="0.5" opacity="0.8"/>
<rect x="551" y="111.9" width="1" height="0.5" opacity="0.8"/>
<rect x="552" y="110" width="1" height="2.4" fill="#008100" opacity="1"/>
<rect x="552" y="110" width="1" height="0.5" opacity="0.8"/>
<rect x="552" y="111.9" width="1" height="0.5" opacity="0.8"/>
</g>
<g>
<rect x="556" y="109" width="1" height="4.6" opacity="0.52"/>
<rect x="556" y="114.4" width="1" height="3.6" opacity="0.52"/>
<rect x="555" y="113.6" width="1" height="1" fill="#004100" opacity="1"/>
<rect x="556" y="113.6" width="1" height="1" fill="#005900" opacity="1"/>
<rect x="557" y="113.6" width="1" height="1" fill="#000000" opacity="0.78"/>
</g>
<g>
<rect x="560" y="110" width="1" height="4" opacity="0.46"/>
<rect x="560" y="114.8" width="1" height="5.2" opacity="0.46"/>
<rect x="559" y="114.05" width="1" height="0.7" opacity="0.71"/>
<rect x="560" y="114.05" width="1" height="0.7" opacity="1"/>
<rect x="561" y="114.05" width="1" height="0.7" opacity="1"/>
<rect x="562" y="114.05" width="1" height="0.7" opacity="0.05"/>
</g>
<g>
<rect x="565" y="96" width="1" height="18.4" opacity="0.82"/>
<rect x="565" y="117.6" width="1" height="1.4" opacity="0.82"/>
<rect x="564" y="114.4" width="1" height="3.2" fill="#007000" opacity="1"/>
<rect x="564" y="114.4" width="1" height="0.5" opacity="0.8"/>
<rect x="564" y="117.1" width="1" height="0.5" opacity="0.8"/>
<rect x="565" y="114.4" width="1" height="3.2" fill="#00ff00" opacity="1"/>
<rect x="565" y="114.4" width="1" height="0.5" opacity="0.8"/>
<rect x="565" y="117.1" width="1" height="0.5" opacity="0.8"/>
<rect x="566" y="114.4" width="1" height="3.2" fill="#001200" opacity="1"/>
<rect x="566" y="114.4" width="1" height="0.5" opacity="0.8"/>
<rect x="566" y="117.1" width="1" height="0.5" opacity="0.8"/>
</g>
<g>
<rect x="569" y="104" width="1" height="8" opacity="0.16"/>
<rect x="569" y="118" width="1" height="0.4" opacity="0.16"/>
<rect x="570" y="104" width="1" height="8" opacity="0.09"/>
<rect x="570" y="118" width="1" height="0.4" opacity="0.09"/>
<rect x="568" y="112" width="1" height="6" fill="#000000" opacity="0.42"/>
<rect x="568" y="112" width="1" height="0.5" opacity="0.34"/>
<rect x="568" y="117.5" width="1" height="0.5" opacity="0.34"/>
<rect x="569" y="112" width="1" height="6" fill="#ff0000" opacity="1"/>
<rect x="569" y="112" width="1" height="0.5" opacity="0.8"/>
<rect x="569" y="117.5" width="1" height="0.5" opacity="0.8"/>
<rect x="570" y="112" width="1" height="6" fill="#ff0000" opacity="1"/>
<rect x="570" y="112" width="1" height="0.5" opacity="0.8"/>
<rect x="570" y="117.5" width="1" height="0.5" opacity="0.8"/>
<rect x="571" y="112" width="1" height="6" fill="#000000" opacity="0.35"/>
<rect x="571" y="112" width="1" height="0.5" opacity="0.28"/>
<rect x="571" y="117.5" width="1" height="0.5" opacity="0.28"/>
</g>
<g>
<rect x="574" y="110" width="1" height="2" opacity="0.89"/>
<rect x="574" y="119" width="1" height="10" opacity="0.89"/>
<rect x="573" y="112" width="1" height="7" fill="#002500" opacity="1"/>
<rect x="573" y="112" width="1" height="0.5" opacity="0.8"/>
<rect x="573" y="118.5" width="1" height="0.5" opacity="0.8"/>
<rect x="574" y="112" width="1" height="7" fill="#00ff00" opacity="1"/>
<rect x="574" y="112" width="1" height="0.5" opacity="0.8"/>
<rect x="574" y="118.5" width="1" height="0.5" opacity="0.8"/>
<rect x="575" y="112" width="1" height="7" fill="#005d00" opacity="1"/>
<rect x="575" y="112" width="1" height="0.5" opacity="0.8"/>
<rect x="575" y="118.5" width="1" height="0.5" opacity="0.8"/>
</g>
<g>
<rect x="579" y="118" width="1" height="1" opacity="0.38"/>
<rect x="579" y="128.4" width="1" height="1.6" opacity="0.38"/>
<rect x="577" y="119" width="1" height="9.4" fill="#000000" opacity="0.13"/>
<rect x="577" y="119" width="1" height="0.5" opacity="0.1"/>
<rect x="577" y="127.9" width="1" height="0.5" opacity="0.1"/>
<rect x="578" y="119" width="1" height="9.4" fill="#00de00" opacity="1"/>
<rect x="578" y="119" width="1" height="0.5" opacity="0.8"/>
<rect x="578" y="127.9" width="1" height="0.5" opacity="0.8"/>
<rect x="579" y="119" width="1" height="9.4" fill="#00ff00" opacity="1"/>
<rect x="579" y="119" width="1" height="0.5" opacity="0.8"/>
<rect x="579" y="127.9" width="1" height="0.5" opacity="0.8"/>
<rect x="580" y="119" width="1" height="9.4" fill="#000000" opacity="0.64"/>
<rect x="580" y="119" width="1" height="0.5" opacity="0.51"/>
<rect x="580" y="127.9" width="1" height="0.5" opacity="0.51"/>
</g>
<g>
<rect x="583" y="105" width="1" height="11.4" opacity="0.6"/>
<rect x="583" y="128" width="1" height="7" opacity="0.6"/>
<rect x="582" y="116.4" width="1" height="11.6" fill="#000000" opacity="0.85"/>
<rect x="582" y="116.4" width="1" height="0.5" opacity="0.68"/>
<rect x="582" y="127.5" width="1" height="0.5" opacity="0.68"/>
<rect x="583" y="116.4" width="1" height="11.6" fill="#ff0000" opacity="1"/>
<rect x="583" y="116.4" width="1" height="0.5" opacity="0.8"/>
<rect x="583" y="127.5" width="1" height="0.5" opacity="0.8"/>
<rect x="584" y="116.4" width="1" height="11.6" fill="#a70000" opacity="1"/>
<rect x="584" y="116.4" width="1" height="0.5" opacity="0.8"/>
<rect x="584" y="127.5" width="1" height="0.5" opacity="0.8"/>
</g>
<g>
<rect x="588" y="112" width="1" height="4.4" opacity="0.67"/>
<rect x="588" y="122.4" width="1" height="12" opacity="0.67"/>
<rect x="587" y="116.4" width="1" height="6" fill="#009400" opacity="1"/>
<rect x="587" y="116.4" width="1" height="0.5" opacity="0.8"/>
<rect x="587" y="121.9" width="1" height="0.5" opacity="0.8"/>
<rect x="588" y="116.4" width="1" height="6" fill="#00ff00" opacity="1"/>
<rect x="588" y="116.4" width="1" height="0.5" opacity="0.8"/>
<rect x="588" y="121.9" width="1" height="0.5" opacity="0.8"/>
<rect x="589" y="116.4" width="1" height="6" fill="#000000" opacity="0.93"/>
<rect x="589" y="116.4" width="1" height="0.5" opacity="0.74"/>
<rect x="589" y="121.9" width="1" height="0.5" opacity="0.74"/>
</g>
<g>
<rect x="592" y="106" width="1" height="11.4" opacity="0.31"/>
<rect x="592" y="122.4" width="1" height="1.6" opacity="0.31"/>
<rect x="591" y="117.4" width="1" height="5" fill="#000000" opacity="0.56"/>
<rect x="591" y="117.4" width="1" height="0.5" opacity="0.45"/>
<rect x="591" y="121.9" width="1" height="0.5" opacity="0.45"/>
<rect x="592" y="117.4" width="1" height="5" fill="#ff0000" opacity="1"/>
<rect x="592" y="117.4" width="1" height="0.5" opacity="0.8"/>
<rect x="592" y="121.9" width="1" height="0.5" opacity="0.8"/>
<rect x="593" y="117.4" width="1" height="5" fill="#f20000" opacity="1"/>
<rect x="593" y="117.4" width="1" height="0.5" opacity="0.8"/>
<rect x="593" y="121.9" width="1" height="0.5" opacity="0.8"/>
<rect x="594" y="117.4" width="1" height="5" fill="#000000" opacity="0.2"/>
<rect x="594" y="117.4" width="1" height="0.5" opacity="0.16"/>
<rect x="594" y="121.9" width="1" height="0.5" opacity="0.16"/>
</g>
<g>
<rect x="597" y="105.6" width="1" height="11.8" opacity="0.97"/>
<rect x="597" y="127.6" width="1" height="4" opacity="0.97"/>
<rect x="596" y="117.4" width="1" height="10.2" fill="#004900" opacity="1"/>
<rect x="596" y="117.4" width="1" height="0.5" opacity="0.8"/>
<rect x="596" y="127.1" width="1" height="0.5" opacity="0.8"/>
<rect x="597" y="117.4" width="1" height="10.2" fill="#00ff00" opacity="1"/>
<rect x="597" y="117.4" width="1" height="0.5" opacity="0.8"/>
<rect x="597" y="127.1" width="1" height="0.5" opacity="0.8"/>
<rect x="598" y="117.4" width="1" height="10.2" fill="#003800" opacity="1"/>
<rect x="598" y="117.4" width="1" height="0.5" opacity="0.8"/>
<rect x="598" y="127.1" width="1" height="0.5" opacity="0.8"/>
</g>
<g>
<rect x="602" y="121" width="1" height="2.4" opacity="0.24"/>
<rect x="602" y="128" width="1" height="5" opacity="0.24"/>
<rect x="600" y="123.4" width="1" height="4.6" fill="#000000" opacity="0.27"/>
<rect x="600" y="123.4" width="1" height="0.5" opacity="0.22"/>
<rect x="600" y="127.5" width="1" height="0.5" opacity="0.22"/>
<rect x="601" y="123.4" width="1" height="4.6" fill="#ff0000" opacity="0.99"/>
<rect x="601" y="123.4" width="1" height="0.5" opacity="0.79"/>
<rect x="601" y="127.5" width="1" height="0.5" opacity="0.79"/>
<rect x="602" y="123.4" width="1" height="4.6" fill="#ff0000" opacity="1"/>
<rect x="602" y="123.4" width="1" height="0.5" opacity="0.8"/>
<rect x="602" y="127.5" width="1" height="0.5" opacity="0.8"/>
<rect x="603" y="123.4" width="1" height="4.6" fill="#000000" opacity="0.49"/>
<rect x="603" y="123.4" width="1" height="0.5" opacity="0.4"/>
<rect x="603" y="127.5" width="1" height="0.5" opacity="0.4"/>
</g>
<g>
<rect x="606" y="121" width="1" height="2.4" opacity="0.74"/>
<rect x="606" y="130.4" width="1" height="0.6" opacity="0.74"/>
<rect x="605" y="123.4" width="1" height="7" fill="#000000" opacity="1"/>
<rect x="605" y="123.4" width="1" height="0.5" opacity="0.8"/>
<rect x="605" y="129.9" width="1" height="0.5" opacity="0.8"/>
<rect x="606" y="123.4" width="1" height="7" fill="#00ff00" opacity="1"/>
<rect x="606" y="123.4" width="1" height="0.5" opacity="0.8"/>
<rect x="606" y="129.9" width="1" height="0.5" opacity="0.8"/>
<rect x="607" y="123.4" width="1" height="7" fill="#008300" opacity="1"/>
<rect x="607" y="123.4" width="1" height="0.5" opacity="0.8"/>
<rect x="607" y="129.9" width="1" height="0.5" opacity="0.8"/>
</g>
<g>
<rect x="611" y="101.6" width="1" height="0.8" opacity="0.53"/>
<rect x="611" y="130.4" width="1" height="8" opacity="0.53"/>
<rect x="610" y="102.4" width="1" height="28" fill="#b80000" opacity="1"/>
<rect x="610" y="102.4" width="1" height="0.5" opacity="0.8"/>
<rect x="610" y="129.9" width="1" height="0.5" opacity="0.8"/>
<rect x="611" y="102.4" width="1" height="28" fill="#ff0000" opacity="1"/>
<rect x="611" y="102.4" width="1" height="0.5" opacity="0.8"/>
<rect x="611" y="129.9" width="1" height="0.5" opacity="0.8"/>
<rect x="612" y="102.4" width="1" height="28" fill="#000000" opacity="0.79"/>
<rect x="612" y="102.4" width="1" height="0.5" opacity="0.63"/>
<rect x="612" y="129.9" width="1" height="0.5" opacity="0.63"/>
</g>
<g>
<rect x="615" y="71" width="1" height="13" opacity="0.45"/>
<rect x="615" y="102.4" width="1" height="1.6" opacity="0.45"/>
<rect x="614" y="84" width="1" height="18.4" fill="#000000" opacity="0.7"/>
<rect x="614" y="84" width="1" height="0.5" opacity="0.56"/>
<rect x="614" y="101.9" width="1" height="0.5" opacity="0.56"/>
<rect x="615" y="84" width="1" height="18.4" fill="#ff0000" opacity="1"/>
<rect x="615" y="84" width="1" height="0.5" opacity="0.8"/>
<rect x="615" y="101.9" width="1" height="0.5" opacity="0.8"/>
<rect x="616" y="84" width="1" height="18.4" fill="#cd0000" opacity="1"/>
<rect x="616" y="84" width="1" height="0.5" opacity="0.8"/>
<rect x="616" y="101.9" width="1" height="0.5" opacity="0.8"/>
<rect x="617" y="84" width="1" height="18.4" fill="#000000" opacity="0.06"/>
<rect x="617" y="84" width="1" height="0.5" opacity="0.05"/>
<rect x="617" y="101.9" width="1" height="0.5" opacity="0.05"/>
</g>
<g>
<rect x="620" y="61" width="1" height="23" opacity="0.82"/>
<rect x="620" y="91.6" width="1" height="1.4" opacity="0.82"/>
<rect x="619" y="84" width="1" height="7.6" fill="#006e00" opacity="1"/>
<rect x="619" y="84" width="1" height="0.5" opacity="0.8"/>
<rect x="619" y="91.1" width="1" height="0.5" opacity="0.8"/>
<rect x="620" y="84" width="1" height="7.6" fill="#00ff00" opacity="1"/>
<rect x="620" y="84" width="1" height="0.5" opacity="0.8"/>
<rect x="620" y="91.1" width="1" height="0.5" opacity="0.8"/>
<rect x="621" y="84" width="1" height="7.6" fill="#001400" opacity="1"/>
<rect x="621" y="84" width="1" height="0.5" opacity="0.8"/>
<rect x="621" y="91.1" width="1" height="0.5" opacity="0.8"/>
</g>
<g>
<rect x="624" y="77" width="1" height="14" opacity="0.16"/>
<rect x="624" y="100.4" width="1" height="4.6" opacity="0.16"/>
<rect x="625" y="77" width="1" height="14" opacity="0.1"/>
<rect x="625" y="100.4" width="1" height="4.6" opacity="0.1"/>
<rect x="623" y="91" width="1" height="9.4" fill="#000000" opacity="0.41"/>
<rect x="623" y="91" width="1" height="0.5" opacity="0.33"/>
<rect x="623" y="99.9" width="1" height="0.5" opacity="0.33"/>
<rect x="624" y="91" width="1" height="9.4" fill="#00ff00" opacity="1"/>
<rect x="624" y="91" width="1" height="0.5" opacity="0.8"/>
<rect x="624" y="99.9" width="1" height="0.5" opacity="0.8"/>
<rect x="625" y="91" width="1" height="9.4" fill="#00ff00" opacity="1"/>
<rect x="625" y="91" width="1" height="0.5" opacity="0.8"/>
<rect x="625" y="99.9" width="1" height="0.5" opacity="0.8"/>
<rect x="626" y="91" width="1" height="9.4" fill="#000000" opacity="0.35"/>
<rect x="626" y="91" width="1" height="0.5" opacity="0.28"/>
<rect x="626" y="99.9" width="1" height="0.5" opacity="0.28"/>
</g>
<g>
<rect x="629" y="75" width="1" height="4.6" opacity="0.88"/>
<rect x="629" y="100.4" width="1" height="3.2" opacity="0.88"/>
<rect x="628" y="79.6" width="1" height="20.8" fill="#230000" opacity="1"/>
<rect x="628" y="79.6" width="1" height="0.5" opacity="0.8"/>
<rect x="628" y="99.9" width="1" height="0.5" opacity="0.8"/>
<rect x="629" y="79.6" width="1" height="20.8" fill="#ff0000" opacity="1"/>
<rect x="629" y="79.6" width="1" height="0.5" opacity="0.8"/>
<rect x="629" y="99.9" width="1" height="0.5" opacity="0.8"/>
<rect x="630" y="79.6" width="1" height="20.8" fill="#5f0000" opacity="1"/>
<rect x="630" y="79.6" width="1" height="0.5" opacity="0.8"/>
<rect x="630" y="99.9" width="1" height="0.5" opacity="0.8"/>
</g>
<g>
<rect x="634" y="71" width="1" height="2.6" opacity="0.39"/>
<rect x="634" y="79.6" width="1" height="0.4" opacity="0.39"/>
<rect x="632" y="73.6" width="1" height="6" fill="#000000" opacity="0.12"/>
<rect x="632" y="73.6" width="1" height="0.5" opacity="0.1"/>
<rect x="632" y="79.1" width="1" height="0.5" opacity="0.1"/>
<rect x="633" y="73.6" width="1" height="6" fill="#dc0000" opacity="1"/>
<rect x="633" y="73.6" width="1" height="0.5" opacity="0.8"/>
<rect x="633" y="79.1" width="1" height="0.5" opacity="0.8"/>
<rect x="634" y="73.6" width="1" height="6" fill="#ff0000" opacity="1"/>
<rect x="634" y="73.6" width="1" height="0.5" opacity="0.8"/>
<rect x="634" y="79.1" width="1" height="0.5" opacity="0.8"/>
<rect x="635" y="73.6" width="1" height="6" fill="#000000" opacity="0.64"/>
<rect x="635" y="73.6" width="1" height="0.5" opacity="0.52"/>
<rect x="635" y="79.1" width="1" height="0.5" opacity="0.52"/>
</g>
<g>
<rect x="638" y="68" width="1" height="4" opacity="0.59"/>
<rect x="638" y="73.6" width="1" height="1.4" opacity="0.59"/>
<rect x="637" y="72" width="1" height="1.6" fill="#000000" opacity="0.85"/>
<rect x="638" y="72" width="1" height="1.6" fill="#590000" opacity="1"/>
<rect x="639" y="72" width="1" height="1.6" fill="#3b0000" opacity="1"/>
</g>
</g>
<g id="zigzag" fill="none" stroke="#dc143c">
<line x1="106.9" y1="40.2" x2="482.6" y2="20.1" stroke-width="0.55" stroke-dasharray="1.72 1.72"/>
<line x1="381.9" y1="51.5" x2="482.6" y2="20.1" stroke-width="0.55" stroke-dasharray="1.72 1.72"/>
<polyline stroke-width="1.08" stroke-linejoin="round" points="1.5,185.9 106.9,41.3 130,158.6 185,89.6 217.1,171.6 258.4,117 317.6,203.3 381.9,51.7 428,89.2 482.6,20.2 519.7,149 640,76.6"/>
</g>
<rect x="1" y="355.2" width="639" height="0.9" fill="#e4e4e4"/>
<rect x="1" y="356.1" width="639" height="1" fill="#969696"/>
<g id="hist">
<rect x="0" y="412" width="1" height="29" fill="#ff0000" opacity="0.08"/>
<rect x="1" y="412" width="1" height="29" fill="#ff0000" opacity="1"/>
<rect x="2" y="412" width="1" height="29" fill="#ff0000" opacity="0.43"/>
<rect x="5" y="409" width="1" height="32" fill="#ff0000" opacity="0.81"/>
<rect x="6" y="409" width="1" height="32" fill="#ff0000" opacity="1"/>
<rect x="10" y="406.4" width="1" height="34.6" fill="#ff0000" opacity="1"/>
<rect x="11" y="406.4" width="1" height="34.6" fill="#ff0000" opacity="0.72"/>
<rect x="14" y="406.4" width="1" height="34.6" fill="#ff0000" opacity="0.51"/>
<rect x="15" y="406.4" width="1" height="34.6" fill="#ff0000" opacity="1"/>
<rect x="19" y="406.4" width="1" height="34.6" fill="#ff0000" opacity="1"/>
<rect x="20" y="406.4" width="1" height="34.6" fill="#ff0000" opacity="0.99"/>
<rect x="23" y="404" width="1" height="37" fill="#ff0000" opacity="0.22"/>
<rect x="24" y="404" width="1" height="37" fill="#ff0000" opacity="1"/>
<rect x="25" y="404" width="1" height="37" fill="#ff0000" opacity="0.29"/>
<rect x="28" y="401.4" width="1" height="39.6" fill="#ff0000" opacity="0.95"/>
<rect x="29" y="401.4" width="1" height="39.6" fill="#ff0000" opacity="1"/>
<rect x="33" y="398.4" width="1" height="42.6" fill="#ff0000" opacity="1"/>
<rect x="34" y="398.4" width="1" height="42.6" fill="#ff0000" opacity="0.58"/>
<rect x="37" y="395.6" width="1" height="45.4" fill="#ff0000" opacity="0.66"/>
<rect x="38" y="395.6" width="1" height="45.4" fill="#ff0000" opacity="1"/>
<rect x="42" y="395.6" width="1" height="45.4" fill="#ff0000" opacity="1"/>
<rect x="43" y="395.6" width="1" height="45.4" fill="#ff0000" opacity="0.87"/>
<rect x="46" y="395.6" width="1" height="45.4" fill="#ff0000" opacity="0.36"/>
<rect x="47" y="395.6" width="1" height="45.4" fill="#ff0000" opacity="1"/>
<rect x="48" y="395.6" width="1" height="45.4" fill="#ff0000" opacity="0.14"/>
<rect x="51" y="395.6" width="1" height="45.4" fill="#ff0000" opacity="1"/>
<rect x="52" y="395.6" width="1" height="45.4" fill="#ff0000" opacity="1"/>
<rect x="55" y="392" width="1" height="49" fill="#ff0000" opacity="0.07"/>
<rect x="56" y="392" width="1" height="49" fill="#ff0000" opacity="1"/>
<rect x="57" y="392" width="1" height="49" fill="#ff0000" opacity="0.44"/>
<rect x="60" y="389" width="1" height="52" fill="#ff0000" opacity="0.8"/>
<rect x="61" y="389" width="1" height="52" fill="#ff0000" opacity="1"/>
<rect x="65" y="386" width="1" height="55" fill="#ff0000" opacity="1"/>
<rect x="66" y="386" width="1" height="55" fill="#ff0000" opacity="0.73"/>
<rect x="69" y="386" width="1" height="55" fill="#ff0000" opacity="0.51"/>
<rect x="70" y="386" width="1" height="55" fill="#ff0000" opacity="1"/>
<rect x="74" y="386" width="1" height="55" fill="#ff0000" opacity="1"/>
<rect x="75" y="386" width="1" height="55" fill="#ff0000" opacity="1"/>
<rect x="78" y="386" width="1" height="55" fill="#ff0000" opacity="0.21"/>
<rect x="79" y="386" width="1" height="55" fill="#ff0000" opacity="1"/>
<rect x="80" y="386" width="1" height="55" fill="#ff0000" opacity="0.29"/>
<rect x="83" y="383.4" width="1" height="57.6" fill="#ff0000" opacity="0.94"/>
<rect x="84" y="383.4" width="1" height="57.6" fill="#ff0000" opacity="1"/>
<rect x="88" y="383.4" width="1" height="57.6" fill="#ff0000" opacity="1"/>
<rect x="89" y="383.4" width="1" height="57.6" fill="#ff0000" opacity="0.59"/>
<rect x="92" y="383.4" width="1" height="57.6" fill="#ff0000" opacity="0.65"/>
<rect x="93" y="383.4" width="1" height="57.6" fill="#ff0000" opacity="1"/>
<rect x="97" y="383.4" width="1" height="57.6" fill="#ff0000" opacity="1"/>
<rect x="98" y="383.4" width="1" height="57.6" fill="#ff0000" opacity="0.88"/>
<rect x="101" y="383.4" width="1" height="57.6" fill="#ff0000" opacity="0.36"/>
<rect x="102" y="383.4" width="1" height="57.6" fill="#ff0000" opacity="1"/>
<rect x="103" y="383.4" width="1" height="57.6" fill="#ff0000" opacity="0.15"/>
<rect x="106" y="380" width="1" height="61" fill="#ff0000" opacity="1"/>
<rect x="107" y="380" width="1" height="61" fill="#ff0000" opacity="1"/>
<rect x="110" y="380" width="1" height="61" fill="#ff0000" opacity="0.06"/>
<rect x="111" y="380" width="1" height="61" fill="#ff0000" opacity="1"/>
<rect x="112" y="380" width="1" height="61" fill="#ff0000" opacity="0.44"/>
<rect x="115" y="380" width="1" height="61" fill="#ff0000" opacity="0.79"/>
<rect x="116" y="380" width="1" height="61" fill="#ff0000" opacity="1"/>
<rect x="120" y="441" width="1" height="9.4" fill="#00ff00" opacity="1"/>
<rect x="121" y="441" width="1" height="9.4" fill="#00ff00" opacity="0.74"/>
<rect x="124" y="441" width="1" height="9.4" fill="#00ff00" opacity="0.5"/>
<rect x="125" y="441" width="1" height="9.4" fill="#00ff00" opacity="1"/>
<rect x="129" y="441" width="1" height="12.4" fill="#00ff00" opacity="1"/>
<rect x="130" y="441" width="1" height="12.4" fill="#00ff00" opacity="1"/>
<rect x="133" y="441" width="1" height="12.4" fill="#00ff00" opacity="0.21"/>
<rect x="134" y="441" width="1" height="12.4" fill="#00ff00" opacity="1"/>
<rect x="135" y="441" width="1" height="12.4" fill="#00ff00" opacity="0.3"/>
<rect x="138" y="441" width="1" height="12.4" fill="#00ff00" opacity="0.93"/>
<rect x="139" y="441" width="1" height="12.4" fill="#00ff00" opacity="1"/>
<rect x="143" y="441" width="1" height="12.4" fill="#00ff00" opacity="1"/>
<rect x="144" y="441" width="1" height="12.4" fill="#00ff00" opacity="0.59"/>
<rect x="147" y="441" width="1" height="12.4" fill="#00ff00" opacity="0.64"/>
<rect x="148" y="441" width="1" height="12.4" fill="#00ff00" opacity="1"/>
<rect x="152" y="441" width="1" height="12.4" fill="#00ff00" opacity="1"/>
<rect x="153" y="441" width="1" height="12.4" fill="#00ff00" opacity="0.89"/>
<rect x="156" y="441" width="1" height="12.4" fill="#00ff00" opacity="0.35"/>
<rect x="157" y="441" width="1" height="12.4" fill="#00ff00" opacity="1"/>
<rect x="158" y="441" width="1" height="12.4" fill="#00ff00" opacity="0.16"/>
<rect x="161" y="441" width="1" height="12.4" fill="#00ff00" opacity="1"/>
<rect x="162" y="441" width="1" height="12.4" fill="#00ff00" opacity="1"/>
<rect x="165" y="441" width="1" height="12.4" fill="#00ff00" opacity="0.06"/>
<rect x="166" y="441" width="1" height="12.4" fill="#00ff00" opacity="1"/>
<rect x="167" y="441" width="1" height="12.4" fill="#00ff00" opacity="0.45"/>
<rect x="170" y="441" width="1" height="12.4" fill="#00ff00" opacity="0.78"/>
<rect x="171" y="441" width="1" height="12.4" fill="#00ff00" opacity="1"/>
<rect x="175" y="441" width="1" height="12.4" fill="#00ff00" opacity="1"/>
<rect x="176" y="441" width="1" height="12.4" fill="#00ff00" opacity="0.74"/>
<rect x="179" y="441" width="1" height="12.4" fill="#00ff00" opacity="0.49"/>
<rect x="180" y="441" width="1" height="12.4" fill="#00ff00" opacity="1"/>
<rect x="184" y="403.4" width="1" height="37.6" fill="#ff0000" opacity="1"/>
<rect x="185" y="403.4" width="1" height="37.6" fill="#ff0000" opacity="1"/>
<rect x="188" y="403.4" width="1" height="37.6" fill="#ff0000" opacity="0.2"/>
<rect x="189" y="403.4" width="1" height="37.6" fill="#ff0000" opacity="1"/>
<rect x="190" y="403.4" width="1" height="37.6" fill="#ff0000" opacity="0.31"/>
<rect x="193" y="403.4" width="1" height="37.6" fill="#ff0000" opacity="0.93"/>
<rect x="194" y="403.4" width="1" height="37.6" fill="#ff0000" opacity="1"/>
<rect x="198" y="403.4" width="1" height="37.6" fill="#ff0000" opacity="1"/>
<rect x="199" y="403.4" width="1" height="37.6" fill="#ff0000" opacity="0.6"/>
<rect x="202" y="403.4" width="1" height="37.6" fill="#ff0000" opacity="0.63"/>
<rect x="203" y="403.4" width="1" height="37.6" fill="#ff0000" opacity="1"/>
<rect x="207" y="403.4" width="1" height="37.6" fill="#ff0000" opacity="1"/>
<rect x="208" y="403.4" width="1" height="37.6" fill="#ff0000" opacity="0.89"/>
<rect x="211" y="441" width="1" height="18.6" fill="#00ff00" opacity="0.34"/>
<rect x="212" y="441" width="1" height="18.6" fill="#00ff00" opacity="1"/>
<rect x="213" y="441" width="1" height="18.6" fill="#00ff00" opacity="0.17"/>
<rect x="216" y="441" width="1" height="21" fill="#00ff00" opacity="1"/>
<rect x="217" y="441" width="1" height="21" fill="#00ff00" opacity="1"/>
<rect x="220" y="441" width="1" height="21" fill="#00ff00" opacity="0.05"/>
<rect x="221" y="441" width="1" height="21" fill="#00ff00" opacity="1"/>
<rect x="222" y="441" width="1" height="21" fill="#00ff00" opacity="0.46"/>
<rect x="225" y="441" width="1" height="21" fill="#00ff00" opacity="0.78"/>
<rect x="226" y="441" width="1" height="21" fill="#00ff00" opacity="1"/>
<rect x="230" y="441" width="1" height="21" fill="#00ff00" opacity="1"/>
<rect x="231" y="441" width="1" height="21" fill="#00ff00" opacity="0.75"/>
<rect x="234" y="441" width="1" height="21" fill="#00ff00" opacity="0.48"/>
<rect x="235" y="441" width="1" height="21" fill="#00ff00" opacity="1"/>
<rect x="236" y="441" width="1" height="21" fill="#00ff00" opacity="0.03"/>
<rect x="239" y="441" width="1" height="21" fill="#00ff00" opacity="1"/>
<rect x="240" y="441" width="1" height="21" fill="#00ff00" opacity="1"/>
<rect x="243" y="441" width="1" height="21" fill="#00ff00" opacity="0.19"/>
<rect x="244" y="441" width="1" height="21" fill="#00ff00" opacity="1"/>
<rect x="245" y="441" width="1" height="21" fill="#00ff00" opacity="0.32"/>
<rect x="248" y="441" width="1" height="21" fill="#00ff00" opacity="0.92"/>
<rect x="249" y="441" width="1" height="21" fill="#00ff00" opacity="1"/>
<rect x="253" y="441" width="1" height="21" fill="#00ff00" opacity="1"/>
<rect x="254" y="441" width="1" height="21" fill="#00ff00" opacity="0.61"/>
<rect x="257" y="412.4" width="1" height="28.6" fill="#ff0000" opacity="0.63"/>
<rect x="258" y="412.4" width="1" height="28.6" fill="#ff0000" opacity="1"/>
<rect x="262" y="412.4" width="1" height="28.6" fill="#ff0000" opacity="1"/>
<rect x="263" y="412.4" width="1" height="28.6" fill="#ff0000" opacity="0.9"/>
<rect x="266" y="412.4" width="1" height="28.6" fill="#ff0000" opacity="0.33"/>
<rect x="267" y="412.4" width="1" height="28.6" fill="#ff0000" opacity="1"/>
<rect x="268" y="412.4" width="1" height="28.6" fill="#ff0000" opacity="0.18"/>
<rect x="271" y="412.4" width="1" height="28.6" fill="#ff0000" opacity="1"/>
<rect x="272" y="412.4" width="1" height="28.6" fill="#ff0000" opacity="1"/>
<rect x="275" y="412.4" width="1" height="28.6" fill="#ff0000" opacity="0.04"/>
<rect x="276" y="412.4" width="1" height="28.6" fill="#ff0000" opacity="1"/>
<rect x="277" y="412.4" width="1" height="28.6" fill="#ff0000" opacity="0.47"/>
<rect x="280" y="441" width="1" height="16" fill="#00ff00" opacity="0.77"/>
<rect x="281" y="441" width="1" height="16" fill="#00ff00" opacity="1"/>
<rect x="285" y="441" width="1" height="19" fill="#00ff00" opacity="1"/>
<rect x="286" y="441" width="1" height="19" fill="#00ff00" opacity="0.76"/>
<rect x="289" y="441" width="1" height="21" fill="#00ff00" opacity="0.48"/>
<rect x="290" y="441" width="1" height="21" fill="#00ff00" opacity="1"/>
<rect x="291" y="441" width="1" height="21" fill="#00ff00" opacity="0.03"/>
<rect x="294" y="441" width="1" height="21" fill="#00ff00" opacity="1"/>
<rect x="295" y="441" width="1" height="21" fill="#00ff00" opacity="1"/>
<rect x="298" y="441" width="1" height="21" fill="#00ff00" opacity="0.18"/>
<rect x="299" y="441" width="1" height="21" fill="#00ff00" opacity="1"/>
<rect x="300" y="441" width="1" height="21" fill="#00ff00" opacity="0.33"/>
<rect x="303" y="441" width="1" height="21" fill="#00ff00" opacity="0.91"/>
<rect x="304" y="441" width="1" height="21" fill="#00ff00" opacity="1"/>
<rect x="308" y="441" width="1" height="21" fill="#00ff00" opacity="1"/>
<rect x="309" y="441" width="1" height="21" fill="#00ff00" opacity="0.62"/>
<rect x="312" y="441" width="1" height="23.6" fill="#00ff00" opacity="0.62"/>
<rect x="313" y="441" width="1" height="23.6" fill="#00ff00" opacity="1"/>
<rect x="317" y="441" width="1" height="23.6" fill="#00ff00" opacity="1"/>
<rect x="318" y="441" width="1" height="23.6" fill="#00ff00" opacity="0.91"/>
<rect x="321" y="441" width="1" height="23.6" fill="#00ff00" opacity="0.33"/>
<rect x="322" y="441" width="1" height="23.6" fill="#00ff00" opacity="1"/>
<rect x="323" y="441" width="1" height="23.6" fill="#00ff00" opacity="0.18"/>
<rect x="326" y="430.4" width="1" height="10.6" fill="#ff0000" opacity="1"/>
<rect x="327" y="430.4" width="1" height="10.6" fill="#ff0000" opacity="1"/>
<rect x="330" y="430.4" width="1" height="10.6" fill="#ff0000" opacity="0.03"/>
<rect x="331" y="430.4" width="1" height="10.6" fill="#ff0000" opacity="1"/>
<rect x="332" y="430.4" width="1" height="10.6" fill="#ff0000" opacity="0.48"/>
<rect x="335" y="430.4" width="1" height="10.6" fill="#ff0000" opacity="0.76"/>
<rect x="336" y="430.4" width="1" height="10.6" fill="#ff0000" opacity="1"/>
<rect x="340" y="427.6" width="1" height="13.4" fill="#ff0000" opacity="1"/>
<rect x="341" y="427.6" width="1" height="13.4" fill="#ff0000" opacity="0.77"/>
<rect x="344" y="427.6" width="1" height="13.4" fill="#ff0000" opacity="0.47"/>
<rect x="345" y="427.6" width="1" height="13.4" fill="#ff0000" opacity="1"/>
<rect x="346" y="427.6" width="1" height="13.4" fill="#ff0000" opacity="0.04"/>
<rect x="349" y="424" width="1" height="17" fill="#ff0000" opacity="1"/>
<rect x="350" y="424" width="1" height="17" fill="#ff0000" opacity="1"/>
<rect x="353" y="421.6" width="1" height="19.4" fill="#ff0000" opacity="0.18"/>
<rect x="354" y="421.6" width="1" height="19.4" fill="#ff0000" opacity="1"/>
<rect x="355" y="421.6" width="1" height="19.4" fill="#ff0000" opacity="0.33"/>
<rect x="358" y="421.6" width="1" height="19.4" fill="#ff0000" opacity="0.9"/>
<rect x="359" y="421.6" width="1" height="19.4" fill="#ff0000" opacity="1"/>
<rect x="363" y="421.6" width="1" height="19.4" fill="#ff0000" opacity="1"/>
<rect x="364" y="421.6" width="1" height="19.4" fill="#ff0000" opacity="0.63"/>
<rect x="367" y="421.6" width="1" height="19.4" fill="#ff0000" opacity="0.61"/>
<rect x="368" y="421.6" width="1" height="19.4" fill="#ff0000" opacity="1"/>
<rect x="372" y="418" width="1" height="23" fill="#ff0000" opacity="1"/>
<rect x="373" y="418" width="1" height="23" fill="#ff0000" opacity="0.92"/>
<rect x="376" y="415" width="1" height="26" fill="#ff0000" opacity="0.32"/>
<rect x="377" y="415" width="1" height="26" fill="#ff0000" opacity="1"/>
<rect x="378" y="415" width="1" height="26" fill="#ff0000" opacity="0.19"/>
<rect x="381" y="412.4" width="1" height="28.6" fill="#ff0000" opacity="1"/>
<rect x="382" y="412.4" width="1" height="28.6" fill="#ff0000" opacity="1"/>
<rect x="385" y="412.4" width="1" height="28.6" fill="#ff0000" opacity="0.03"/>
<rect x="386" y="412.4" width="1" height="28.6" fill="#ff0000" opacity="1"/>
<rect x="387" y="412.4" width="1" height="28.6" fill="#ff0000" opacity="0.48"/>
<rect x="390" y="412.4" width="1" height="28.6" fill="#ff0000" opacity="0.75"/>
<rect x="391" y="412.4" width="1" height="28.6" fill="#ff0000" opacity="1"/>
<rect x="395" y="412.4" width="1" height="28.6" fill="#ff0000" opacity="1"/>
<rect x="396" y="412.4" width="1" height="28.6" fill="#ff0000" opacity="0.78"/>
<rect x="399" y="412.4" width="1" height="28.6" fill="#ff0000" opacity="0.46"/>
<rect x="400" y="412.4" width="1" height="28.6" fill="#ff0000" opacity="1"/>
<rect x="401" y="412.4" width="1" height="28.6" fill="#ff0000" opacity="0.05"/>
<rect x="404" y="412.4" width="1" height="28.6" fill="#ff0000" opacity="1"/>
<rect x="405" y="412.4" width="1" height="28.6" fill="#ff0000" opacity="1"/>
<rect x="408" y="412.4" width="1" height="28.6" fill="#ff0000" opacity="0.17"/>
<rect x="409" y="412.4" width="1" height="28.6" fill="#ff0000" opacity="1"/>
<rect x="410" y="412.4" width="1" height="28.6" fill="#ff0000" opacity="0.34"/>
<rect x="413" y="412.4" width="1" height="28.6" fill="#ff0000" opacity="0.9"/>
<rect x="414" y="412.4" width="1" height="28.6" fill="#ff0000" opacity="1"/>
<rect x="418" y="412.4" width="1" height="28.6" fill="#ff0000" opacity="1"/>
<rect x="419" y="412.4" width="1" height="28.6" fill="#ff0000" opacity="0.63"/>
<rect x="422" y="412.4" width="1" height="28.6" fill="#ff0000" opacity="0.6"/>
<rect x="423" y="412.4" width="1" height="28.6" fill="#ff0000" opacity="1"/>
<rect x="427" y="441" width="1" height="33" fill="#00ff00" opacity="1"/>
<rect x="428" y="441" width="1" height="33" fill="#00ff00" opacity="0.93"/>
<rect x="431" y="441" width="1" height="33" fill="#00ff00" opacity="0.31"/>
<rect x="432" y="441" width="1" height="33" fill="#00ff00" opacity="1"/>
<rect x="433" y="441" width="1" height="33" fill="#00ff00" opacity="0.2"/>
<rect x="436" y="441" width="1" height="33" fill="#00ff00" opacity="1"/>
<rect x="437" y="441" width="1" height="33" fill="#00ff00" opacity="1"/>
<rect x="441" y="441" width="1" height="33" fill="#00ff00" opacity="1"/>
<rect x="442" y="441" width="1" height="33" fill="#00ff00" opacity="0.49"/>
<rect x="445" y="441" width="1" height="33" fill="#00ff00" opacity="0.75"/>
<rect x="446" y="441" width="1" height="33" fill="#00ff00" opacity="1"/>
<rect x="450" y="424" width="1" height="17" fill="#ff0000" opacity="1"/>
<rect x="451" y="424" width="1" height="17" fill="#ff0000" opacity="0.78"/>
<rect x="454" y="421" width="1" height="20" fill="#ff0000" opacity="0.45"/>
<rect x="455" y="421" width="1" height="20" fill="#ff0000" opacity="1"/>
<rect x="456" y="421" width="1" height="20" fill="#ff0000" opacity="0.06"/>
<rect x="459" y="418" width="1" height="23" fill="#ff0000" opacity="1"/>
<rect x="460" y="418" width="1" height="23" fill="#ff0000" opacity="1"/>
<rect x="463" y="415.4" width="1" height="25.6" fill="#ff0000" opacity="0.16"/>
<rect x="464" y="415.4" width="1" height="25.6" fill="#ff0000" opacity="1"/>
<rect x="465" y="415.4" width="1" height="25.6" fill="#ff0000" opacity="0.35"/>
<rect x="468" y="415.4" width="1" height="25.6" fill="#ff0000" opacity="0.89"/>
<rect x="469" y="415.4" width="1" height="25.6" fill="#ff0000" opacity="1"/>
<rect x="473" y="415.4" width="1" height="25.6" fill="#ff0000" opacity="1"/>
<rect x="474" y="415.4" width="1" height="25.6" fill="#ff0000" opacity="0.64"/>
<rect x="477" y="415.4" width="1" height="25.6" fill="#ff0000" opacity="0.6"/>
<rect x="478" y="415.4" width="1" height="25.6" fill="#ff0000" opacity="1"/>
<rect x="482" y="412.4" width="1" height="28.6" fill="#ff0000" opacity="1"/>
<rect x="483" y="412.4" width="1" height="28.6" fill="#ff0000" opacity="0.93"/>
<rect x="486" y="412.4" width="1" height="28.6" fill="#ff0000" opacity="0.3"/>
<rect x="487" y="412.4" width="1" height="28.6" fill="#ff0000" opacity="1"/>
<rect x="488" y="412.4" width="1" height="28.6" fill="#ff0000" opacity="0.21"/>
<rect x="491" y="412.4" width="1" height="28.6" fill="#ff0000" opacity="1"/>
<rect x="492" y="412.4" width="1" height="28.6" fill="#ff0000" opacity="1"/>
<rect x="496" y="412.4" width="1" height="28.6" fill="#ff0000" opacity="1"/>
<rect x="497" y="412.4" width="1" height="28.6" fill="#ff0000" opacity="0.5"/>
<rect x="500" y="412.4" width="1" height="28.6" fill="#ff0000" opacity="0.74"/>
<rect x="501" y="412.4" width="1" height="28.6" fill="#ff0000" opacity="1"/>
<rect x="505" y="412.4" width="1" height="28.6" fill="#ff0000" opacity="1"/>
<rect x="506" y="412.4" width="1" height="28.6" fill="#ff0000" opacity="0.79"/>
<rect x="509" y="441" width="1" height="16" fill="#00ff00" opacity="0.45"/>
<rect x="510" y="441" width="1" height="16" fill="#00ff00" opacity="1"/>
<rect x="511" y="441" width="1" height="16" fill="#00ff00" opacity="0.06"/>
<rect x="514" y="441" width="1" height="18.6" fill="#00ff00" opacity="1"/>
<rect x="515" y="441" width="1" height="18.6" fill="#00ff00" opacity="1"/>
<rect x="518" y="441" width="1" height="21" fill="#00ff00" opacity="0.15"/>
<rect x="519" y="441" width="1" height="21" fill="#00ff00" opacity="1"/>
<rect x="520" y="441" width="1" height="21" fill="#00ff00" opacity="0.36"/>
<rect x="523" y="441" width="1" height="21" fill="#00ff00" opacity="0.88"/>
<rect x="524" y="441" width="1" height="21" fill="#00ff00" opacity="1"/>
<rect x="528" y="441" width="1" height="21" fill="#00ff00" opacity="1"/>
<rect x="529" y="441" width="1" height="21" fill="#00ff00" opacity="0.65"/>
<rect x="532" y="441" width="1" height="21" fill="#00ff00" opacity="0.59"/>
<rect x="533" y="441" width="1" height="21" fill="#00ff00" opacity="1"/>
<rect x="537" y="441" width="1" height="21" fill="#00ff00" opacity="1"/>
<rect x="538" y="441" width="1" height="21" fill="#00ff00" opacity="0.94"/>
<rect x="541" y="441" width="1" height="21" fill="#00ff00" opacity="0.3"/>
<rect x="542" y="441" width="1" height="21" fill="#00ff00" opacity="1"/>
<rect x="543" y="441" width="1" height="21" fill="#00ff00" opacity="0.21"/>
<rect x="546" y="441" width="1" height="21" fill="#00ff00" opacity="1"/>
<rect x="547" y="441" width="1" height="21" fill="#00ff00" opacity="1"/>
<rect x="551" y="441" width="1" height="21" fill="#00ff00" opacity="1"/>
<rect x="552" y="441" width="1" height="21" fill="#00ff00" opacity="0.51"/>
<rect x="555" y="441" width="1" height="21" fill="#00ff00" opacity="0.73"/>
<rect x="556" y="441" width="1" height="21" fill="#00ff00" opacity="1"/>
<rect x="560" y="441" width="1" height="21" fill="#00ff00" opacity="1"/>
<rect x="561" y="441" width="1" height="21" fill="#00ff00" opacity="0.8"/>
<rect x="564" y="441" width="1" height="21" fill="#00ff00" opacity="0.44"/>
<rect x="565" y="441" width="1" height="21" fill="#00ff00" opacity="1"/>
<rect x="566" y="441" width="1" height="21" fill="#00ff00" opacity="0.07"/>
<rect x="569" y="441" width="1" height="21" fill="#00ff00" opacity="1"/>
<rect x="570" y="441" width="1" height="21" fill="#00ff00" opacity="1"/>
<rect x="573" y="441" width="1" height="21" fill="#00ff00" opacity="0.15"/>
<rect x="574" y="441" width="1" height="21" fill="#00ff00" opacity="1"/>
<rect x="575" y="441" width="1" height="21" fill="#00ff00" opacity="0.36"/>
<rect x="578" y="441" width="1" height="21" fill="#00ff00" opacity="0.87"/>
<rect x="579" y="441" width="1" height="21" fill="#00ff00" opacity="1"/>
<rect x="583" y="441" width="1" height="21" fill="#00ff00" opacity="1"/>
<rect x="584" y="441" width="1" height="21" fill="#00ff00" opacity="0.66"/>
<rect x="587" y="441" width="1" height="21" fill="#00ff00" opacity="0.58"/>
<rect x="588" y="441" width="1" height="21" fill="#00ff00" opacity="1"/>
<rect x="592" y="441" width="1" height="21" fill="#00ff00" opacity="1"/>
<rect x="593" y="441" width="1" height="21" fill="#00ff00" opacity="0.95"/>
<rect x="596" y="441" width="1" height="21" fill="#00ff00" opacity="0.29"/>
<rect x="597" y="441" width="1" height="21" fill="#00ff00" opacity="1"/>
<rect x="598" y="441" width="1" height="21" fill="#00ff00" opacity="0.22"/>
<rect x="601" y="441" width="1" height="21" fill="#00ff00" opacity="0.99"/>
<rect x="602" y="441" width="1" height="21" fill="#00ff00" opacity="1"/>
<rect x="606" y="441" width="1" height="21" fill="#00ff00" opacity="1"/>
<rect x="607" y="441" width="1" height="21" fill="#00ff00" opacity="0.51"/>
<rect x="610" y="441" width="1" height="21" fill="#00ff00" opacity="0.72"/>
<rect x="611" y="441" width="1" height="21" fill="#00ff00" opacity="1"/>
<rect x="615" y="377" width="1" height="64" fill="#ff0000" opacity="1"/>
<rect x="616" y="377" width="1" height="64" fill="#ff0000" opacity="0.81"/>
<rect x="619" y="374.4" width="1" height="66.6" fill="#ff0000" opacity="0.43"/>
<rect x="620" y="374.4" width="1" height="66.6" fill="#ff0000" opacity="1"/>
<rect x="621" y="374.4" width="1" height="66.6" fill="#ff0000" opacity="0.08"/>
<rect x="624" y="374.4" width="1" height="66.6" fill="#ff0000" opacity="1"/>
<rect x="625" y="374.4" width="1" height="66.6" fill="#ff0000" opacity="1"/>
<rect x="628" y="374.4" width="1" height="66.6" fill="#ff0000" opacity="0.14"/>
<rect x="629" y="374.4" width="1" height="66.6" fill="#ff0000" opacity="1"/>
<rect x="630" y="374.4" width="1" height="66.6" fill="#ff0000" opacity="0.37"/>
<rect x="633" y="374.4" width="1" height="66.6" fill="#ff0000" opacity="0.86"/>
<rect x="634" y="374.4" width="1" height="66.6" fill="#ff0000" opacity="1"/>
<rect x="638" y="374.4" width="1" height="66.6" fill="#ff0000" opacity="1"/>
<rect x="639" y="374.4" width="1" height="66.6" fill="#ff0000" opacity="0.66"/>
<polyline fill="none" stroke="#707070" stroke-width="0.7" points="1.6,412 6.18,409 10.77,406.4 15.35,406.4 19.93,406.4 24.52,404 29.1,401.4 33.69,398.4 38.27,395.6 42.85,395.6 47.44,395.6 52.02,395.6 56.6,392 61.19,389 65.77,386 70.36,386 74.94,386 79.52,386 84.11,383.4 88.69,383.4 93.27,383.4 97.86,383.4 102.44,383.4 107.03,380 111.61,380 116.19,380 120.78,450.4 125.36,450.4 129.94,453.4 134.53,453.4 139.11,453.4 143.69,453.4 148.28,453.4 152.86,453.4 157.45,453.4 162.03,453.4 166.61,453.4 171.2,453.4 175.78,453.4 180.36,453.4 184.95,403.4 189.53,403.4 194.12,403.4 198.7,403.4 203.28,403.4 207.87,403.4 212.45,459.6 217.03,462 221.62,462 226.2,462 230.78,462 235.37,462 239.95,462 244.54,462 249.12,462 253.7,462 258.29,412.4 262.87,412.4 267.45,412.4 272.04,412.4 276.62,412.4 281.21,457 285.79,460 290.37,462 294.96,462 299.54,462 304.12,462 308.71,462 313.29,464.6 317.88,464.6 322.46,464.6 327.04,430.4 331.63,430.4 336.21,430.4 340.79,427.6 345.38,427.6 349.96,424 354.54,421.6 359.13,421.6 363.71,421.6 368.3,421.6 372.88,418 377.46,415 382.05,412.4 386.63,412.4 391.21,412.4 395.8,412.4 400.38,412.4 404.97,412.4 409.55,412.4 414.13,412.4 418.72,412.4 423.3,412.4 427.88,474 432.47,474 437.05,474 441.64,474 446.22,474 450.8,424 455.39,421 459.97,418 464.55,415.4 469.14,415.4 473.72,415.4 478.3,415.4 482.89,412.4 487.47,412.4 492.06,412.4 496.64,412.4 501.22,412.4 505.81,412.4 510.39,457 514.97,459.6 519.56,462 524.14,462 528.73,462 533.31,462 537.89,462 542.48,462 547.06,462 551.64,462 556.23,462 560.81,462 565.4,462 569.98,462 574.56,462 579.15,462 583.73,462 588.31,462 592.9,462 597.48,462 602.06,462 606.65,462 611.23,462 615.82,377 620.4,374.4 624.98,374.4 629.57,374.4 634.15,374.4 638.73,374.4"/>
</g>
<g id="zigzag2" fill="none" stroke="#dc143c">
<line x1="106.9" y1="380" x2="483" y2="411.9" stroke-width="0.55" stroke-dasharray="1.72 1.72"/>
<line x1="382.2" y1="411.9" x2="483" y2="411.9" stroke-width="0.55" stroke-dasharray="1.72 1.72"/>
<polyline stroke-width="1.08" stroke-linejoin="round" points="1.5,438.2 106.9,380 130,453.4 185,403.4 217.1,462 258.4,412.4 318,464.6 382.2,412.4 428,474 483,412.4 519.7,462 640,382"/>
</g>
<path d="M3.2 5.8 L7 5.8 L5.1 7.9 Z" fill="#000"/>
<g font-size="6.7" fill="#000" stroke="#000" stroke-width="0.22">
<text x="10" y="9.05" textLength="31" lengthAdjust="spacingAndGlyphs">XAUUSD.H1</text>
<text x="44.4" y="9.05" textLength="18.6" lengthAdjust="spacingAndGlyphs">1856.44</text>
<text x="65" y="9.05" textLength="18.6" lengthAdjust="spacingAndGlyphs">1860.01</text>
<text x="85.6" y="9.05" textLength="18.8" lengthAdjust="spacingAndGlyphs">1855.50</text>
<text x="106.4" y="9.05" textLength="18.6" lengthAdjust="spacingAndGlyphs">1859.67</text>
</g>
<g font-size="6.45" fill="#000" stroke="#000" stroke-width="0.22">
<text x="4" y="363.35" textLength="39" lengthAdjust="spacingAndGlyphs">Power-Trapezoid</text>
<text x="45.6" y="363.35" textLength="15.4" lengthAdjust="spacingAndGlyphs">0.0000</text>
<text x="63.6" y="363.35" textLength="18.4" lengthAdjust="spacingAndGlyphs">15.0000</text>
<text x="84.2" y="363.35" textLength="18.8" lengthAdjust="spacingAndGlyphs">15.0000</text>
</g>
</svg>
</body></html>
